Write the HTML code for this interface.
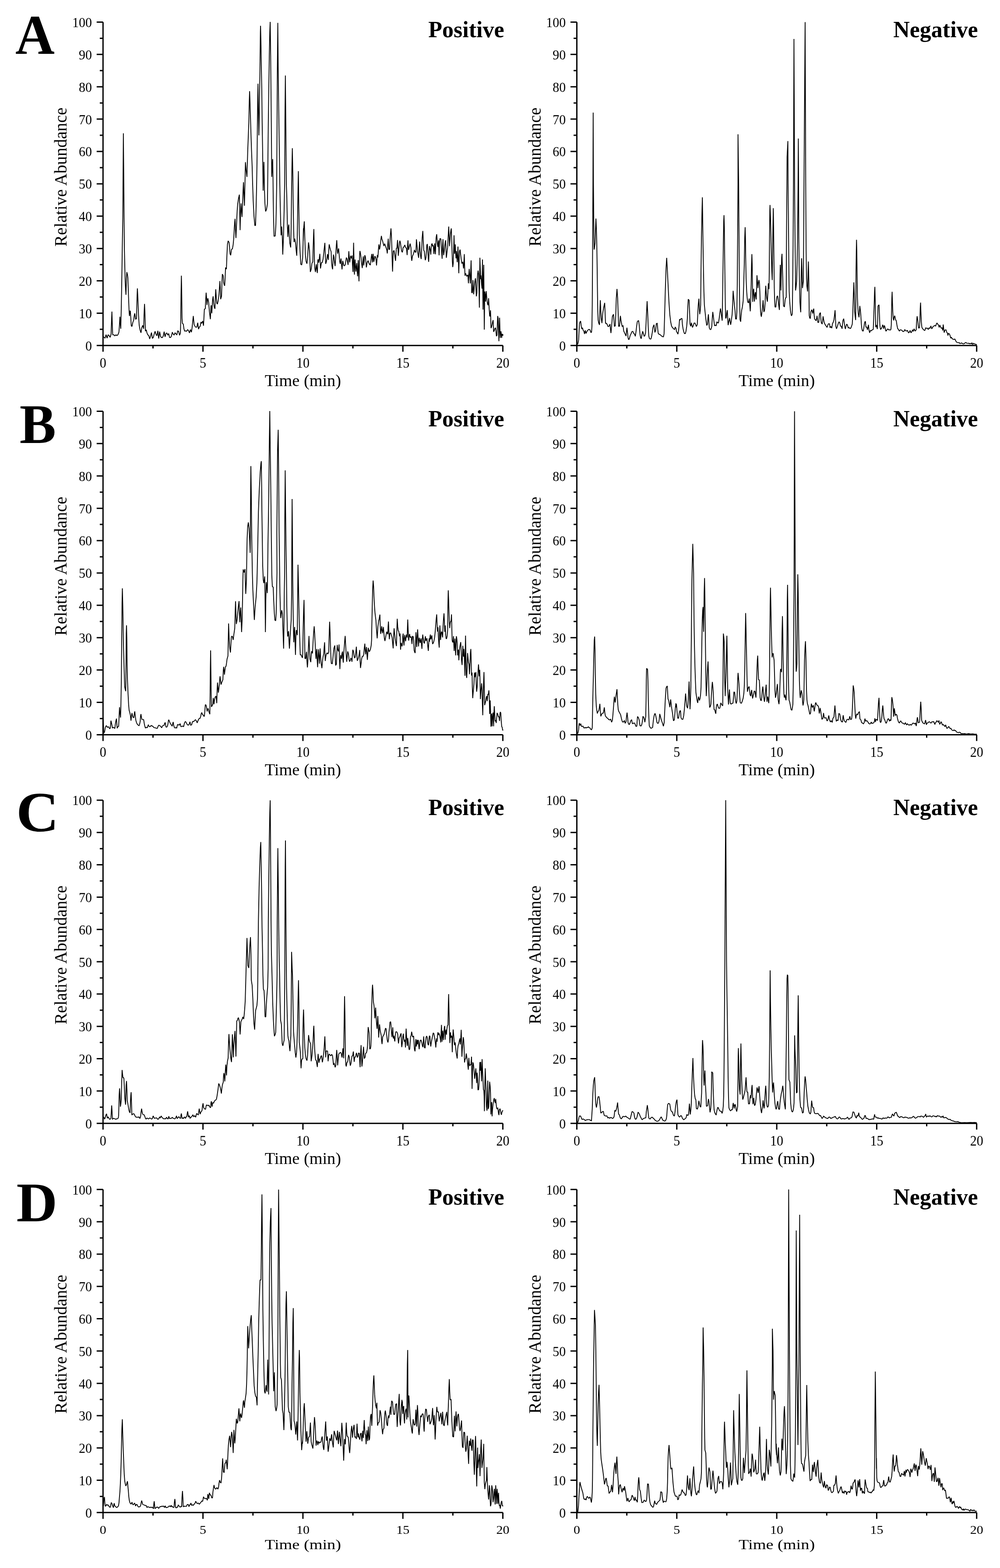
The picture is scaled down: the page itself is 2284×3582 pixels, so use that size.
<!DOCTYPE html>
<html lang="en">
<head>
<meta charset="utf-8">
<title>Chromatograms</title>
<style>
html,body{margin:0;padding:0;background:#fff;}
body{width:2284px;height:3582px;overflow:hidden;}
main,figure{display:block;margin:0;padding:0;}
svg{display:block;}
text{font-family:"Liberation Serif","Noto Serif CJK SC",serif;fill:#000;}
.ax{fill:none;stroke:#000;stroke-width:3.0;stroke-linecap:butt;}
.tr{fill:none;stroke:#000;stroke-width:1.9;stroke-linejoin:bevel;stroke-linecap:butt;}
.tk{font-size:30px;}
.xl{font-size:38.3px;}
.yl{font-size:39.3px;}
.md{font-size:52px;font-weight:bold;}
.lt{font-size:126px;font-weight:bold;}
</style>
</head>
<body>
<main>
<figure>
<svg width="2284" height="3582" viewBox="0 0 2284 3582" role="img" aria-label="Total ion chromatograms of samples A to D in positive and negative ion modes">
<rect width="2284" height="3582" fill="#fff"/>
<text class="lt" transform="translate(34.9 123.0) scale(0.988 1.028)">A</text>
<g>
<path class="ax" d="M235.30 50.45V803.60M220.80 789.30H1148.50M227.90 752.36H235.30M220.80 715.42H235.30M227.90 678.47H235.30M220.80 641.53H235.30M227.90 604.59H235.30M220.80 567.65H235.30M227.90 530.70H235.30M220.80 493.76H235.30M227.90 456.82H235.30M220.80 419.88H235.30M227.90 382.93H235.30M220.80 345.99H235.30M227.90 309.05H235.30M220.80 272.11H235.30M227.90 235.16H235.30M220.80 198.22H235.30M227.90 161.28H235.30M220.80 124.34H235.30M227.90 87.39H235.30M220.80 50.45H235.30M349.45 789.30V796.10M463.60 789.30V803.60M577.75 789.30V796.10M691.90 789.30V803.60M806.05 789.30V796.10M920.20 789.30V803.60M1034.35 789.30V796.10M1148.50 789.30V803.60"/>
<text class="tk" text-anchor="end" transform="translate(210.0 800.7) scale(1 1.05)">0</text>
<text class="tk" text-anchor="end" transform="translate(210.0 726.8) scale(1 1.05)">10</text>
<text class="tk" text-anchor="end" transform="translate(210.0 652.9) scale(1 1.05)">20</text>
<text class="tk" text-anchor="end" transform="translate(210.0 579.0) scale(1 1.05)">30</text>
<text class="tk" text-anchor="end" transform="translate(210.0 505.2) scale(1 1.05)">40</text>
<text class="tk" text-anchor="end" transform="translate(210.0 431.3) scale(1 1.05)">50</text>
<text class="tk" text-anchor="end" transform="translate(210.0 357.4) scale(1 1.05)">60</text>
<text class="tk" text-anchor="end" transform="translate(210.0 283.5) scale(1 1.05)">70</text>
<text class="tk" text-anchor="end" transform="translate(210.0 209.6) scale(1 1.05)">80</text>
<text class="tk" text-anchor="end" transform="translate(210.0 135.7) scale(1 1.05)">90</text>
<text class="tk" text-anchor="end" transform="translate(210.0 61.9) scale(1 1.05)">100</text>
<text class="tk" text-anchor="middle" transform="translate(235.3 839.9) scale(1 1.1)">0</text>
<text class="tk" text-anchor="middle" transform="translate(463.6 839.9) scale(1 1.1)">5</text>
<text class="tk" text-anchor="middle" transform="translate(691.9 839.9) scale(1 1.1)">10</text>
<text class="tk" text-anchor="middle" transform="translate(920.2 839.9) scale(1 1.1)">15</text>
<text class="tk" text-anchor="middle" transform="translate(1148.5 839.9) scale(1 1.1)">20</text>
<text class="xl" text-anchor="middle" x="691.9" y="881.6">Time (min)</text>
<text class="yl" text-anchor="middle" transform="translate(152.4 404.4) rotate(-90)">Relative Abundance</text>
<text class="md" text-anchor="end" x="1151.5" y="84.8">Positive</text>
<polyline class="tr" points="235.5,768.8 237.8,770.7 240.0,772.6 242.3,764.5 244.6,772.4 246.9,764.8 249.2,766.7 251.5,770.6 253.7,763.4 254.7,735.0 255.6,711.9 256.5,741.1 257.4,764.9 259.9,764.7 262.3,767.4 264.7,764.8 267.1,766.8 269.6,764.2 271.6,758.8 272.6,745.7 273.9,723.5 274.9,739.6 275.8,751.1 276.8,711.9 278.0,650.5 279.3,565.9 280.5,496.8 281.8,304.6 283.4,496.8 284.2,573.6 285.7,635.1 286.8,659.7 287.7,673.5 288.8,635.1 289.7,621.6 291.1,627.4 292.1,635.1 293.4,673.5 294.9,711.9 295.7,721.9 296.6,710.4 297.7,710.4 298.8,727.3 299.8,744.2 301.4,745.7 303.4,736.5 305.4,731.2 306.6,721.1 307.8,715.8 308.8,722.7 309.8,729.6 311.8,727.3 312.7,688.9 313.8,658.9 314.9,681.2 316.4,719.6 317.9,742.7 319.8,753.4 322.0,760.3 323.8,748.8 325.9,743.4 327.2,747.3 328.1,751.1 329.0,719.6 330.1,694.3 331.2,719.6 332.1,756.5 334.1,753.4 335.6,760.3 337.6,764.9 339.8,766.5 341.9,774.2 343.9,767.6 346.0,759.7 348.0,773.0 350.1,771.0 352.2,763.1 354.2,756.7 356.3,763.7 358.4,767.0 360.5,755.7 362.5,773.4 364.6,757.6 366.7,768.4 368.7,771.1 370.8,771.3 372.9,767.5 374.9,757.6 377.0,769.6 379.1,761.8 381.1,760.6 383.2,765.5 385.2,762.0 387.3,771.1 389.4,771.1 391.5,768.0 393.6,758.8 395.6,763.4 397.7,765.5 399.7,760.1 401.8,762.5 403.9,765.3 405.9,755.6 408.0,757.3 410.1,765.9 412.1,760.8 412.9,727.3 413.5,673.5 414.3,629.7 415.1,673.5 415.8,727.3 416.6,738.8 418.6,740.3 420.1,751.1 421.8,756.5 424.0,755.9 426.2,756.9 428.4,753.0 430.6,755.1 432.8,760.6 435.0,752.8 437.2,758.8 438.7,748.8 440.3,733.4 441.5,721.9 442.4,731.9 443.5,741.9 446.6,747.4 449.6,747.3 451.6,737.3 453.5,751.8 455.6,746.5 457.2,745.7 459.0,735.7 460.5,738.8 462.4,735.0 463.0,733.4 464.8,744.2 466.8,706.5 468.9,705.0 469.9,684.2 470.8,668.6 471.9,681.2 472.8,696.6 473.7,685.8 474.8,681.5 476.5,690.4 478.3,711.9 480.5,729.2 481.9,698.1 482.7,698.1 483.7,715.8 485.7,684.2 486.8,676.9 487.9,691.9 489.4,701.9 491.0,705.4 491.9,678.1 492.8,660.9 494.1,681.2 495.2,692.7 496.5,694.7 498.3,687.3 500.2,672.0 501.4,655.1 502.3,642.0 503.2,659.7 504.0,683.5 506.0,676.6 506.9,647.4 507.8,626.2 509.7,629.7 510.9,645.8 512.2,651.2 513.2,652.8 514.3,632.0 515.2,611.3 517.1,614.8 518.3,582.9 519.5,558.3 521.1,550.3 523.2,553.7 524.5,567.5 525.5,579.8 526.9,583.2 528.8,569.8 530.9,568.2 532.5,559.1 534.0,542.9 535.2,519.8 536.2,506.0 536.9,499.9 537.8,524.5 538.9,543.7 540.3,512.2 541.7,481.4 542.9,466.1 544.7,453.8 546.7,444.6 547.5,481.4 548.4,525.7 549.3,489.1 550.6,464.6 551.6,481.4 552.7,495.6 554.0,466.1 555.2,435.4 556.1,416.4 558.3,470.0 559.5,420.0 560.6,370.4 562.1,388.0 564.0,404.1 565.9,341.9 568.3,280.5 569.3,234.3 570.1,208.3 571.3,242.0 572.9,295.8 574.4,341.9 575.9,380.3 577.0,420.0 578.3,458.4 580.1,493.8 582.1,515.3 583.6,515.0 584.7,481.4 585.9,435.4 587.2,357.3 587.9,280.5 588.7,219.0 589.3,191.3 590.2,249.7 591.3,309.3 592.4,249.7 593.3,188.2 594.1,126.8 594.7,73.1 595.1,58.9 596.1,103.8 597.0,157.6 597.9,203.6 598.8,280.5 599.8,341.9 601.0,435.4 602.8,369.9 604.1,435.4 605.1,464.6 606.7,483.0 608.7,478.4 610.8,466.1 611.4,420.0 612.0,357.3 612.8,280.5 613.9,203.6 615.1,126.8 616.2,73.1 617.1,50.0 618.2,126.8 618.9,203.6 619.7,280.5 620.2,341.9 620.6,404.1 622.8,363.4 623.5,403.4 624.0,450.8 624.8,496.8 625.9,539.9 628.6,539.1 630.2,512.2 631.2,466.1 632.0,420.0 632.8,280.5 633.5,157.6 634.5,52.3 635.4,157.6 636.6,249.7 638.2,357.3 639.1,420.0 640.0,466.1 641.2,512.2 642.0,537.5 643.5,517.6 644.8,542.9 645.8,581.6 647.4,542.9 648.9,481.4 650.1,420.0 650.8,280.5 651.8,172.4 652.9,295.8 654.0,420.0 655.1,450.8 656.3,512.2 657.5,541.3 658.6,519.8 659.7,513.0 660.6,535.2 661.9,555.2 664.0,565.2 665.1,512.2 666.1,420.0 666.7,388.0 667.7,338.5 668.9,403.4 669.7,466.1 670.7,527.5 671.6,552.9 673.2,545.2 675.0,555.2 676.6,573.6 677.8,584.1 678.9,542.9 679.9,481.4 680.9,420.0 681.5,391.1 682.4,466.1 683.6,535.2 685.3,573.6 687.0,603.6 689.2,605.1 691.2,589.0 692.2,558.3 693.0,521.4 692.5,550.6 693.8,519.8 695.0,505.7 696.2,542.9 697.5,581.3 699.0,596.7 701.0,602.5 702.5,589.0 703.6,570.6 704.7,553.7 705.7,561.4 707.0,573.6 707.9,596.7 708.8,621.3 710.7,615.2 712.5,601.3 714.4,598.2 715.3,565.9 716.1,539.9 716.8,523.2 717.6,558.3 718.3,604.4 719.4,615.2 720.5,621.3 721.4,613.6 722.5,603.6 723.6,615.2 724.8,623.6 726.0,593.6 727.0,592.8 727.9,599.8 729.1,592.1 730.5,579.8 731.3,596.7 732.0,613.3 733.4,604.4 734.5,599.4 736.0,599.8 737.9,592.1 739.8,575.2 741.1,562.9 742.0,554.9 742.9,581.3 743.9,602.8 745.7,596.7 746.9,589.0 748.0,580.6 749.1,587.4 750.0,593.6 750.9,570.6 751.9,558.3 753.2,564.4 754.8,570.6 756.3,575.2 757.4,601.3 758.6,610.5 759.7,615.2 760.6,596.7 761.7,581.6 762.9,587.4 764.1,599.8 765.4,607.8 766.6,589.0 767.8,565.9 769.2,548.7 770.1,565.9 771.0,579.5 772.1,573.6 773.4,567.5 774.6,581.3 775.8,596.7 777.1,602.8 778.0,596.7 778.9,590.5 780.1,604.4 781.2,615.4 782.1,604.4 782.9,595.9 784.1,601.3 785.3,606.7 787.0,607.1 788.6,604.4 789.8,596.7 791.0,588.7 792.4,590.5 793.6,596.7 795.0,605.1 796.0,589.0 796.7,573.9 797.8,589.0 798.8,599.4 799.8,592.1 800.8,584.4 801.9,587.4 803.2,590.5 804.2,583.6 805.1,604.4 806.2,621.3 807.0,589.0 807.6,554.4 808.4,589.0 809.0,618.2 809.6,627.4 810.2,604.4 811.0,592.8 811.9,608.9 812.9,620.5 813.9,608.9 814.8,601.0 815.8,619.7 816.7,631.3 817.5,612.0 818.2,594.4 819.0,619.7 819.9,642.8 820.8,604.4 821.4,581.3 822.1,573.3 823.4,579.8 824.7,589.0 825.9,601.3 827.4,612.3 828.7,596.7 829.7,585.6 830.8,606.4 831.9,596.7 833.3,582.9 834.6,587.4 835.7,598.2 836.8,610.8 838.0,602.8 839.2,598.2 840.7,595.4 842.3,600.5 843.9,603.6 845.7,605.5 847.0,596.7 848.0,587.4 849.2,580.1 850.8,599.4 852.3,579.8 853.9,598.2 856.2,585.2 857.7,587.4 858.9,593.6 860.0,606.4 861.1,592.1 861.8,582.6 863.1,588.3 864.3,570.6 865.4,558.3 866.9,569.8 868.5,561.4 869.7,549.0 871.1,538.8 872.3,546.0 873.9,550.6 875.4,556.7 876.9,562.1 878.4,556.7 880.3,561.4 882.3,567.5 883.4,570.6 884.6,579.0 885.7,558.3 886.7,545.2 888.0,569.8 890.0,569.8 890.7,550.6 891.8,535.2 893.0,521.7 894.1,539.9 895.0,565.9 895.8,596.7 896.6,620.5 897.6,589.0 898.4,573.6 900.0,572.1 901.5,581.3 903.4,595.9 904.5,578.3 905.3,566.8 906.5,567.5 908.0,548.3 908.9,565.9 909.7,584.4 911.0,570.6 912.3,555.2 913.3,549.8 914.7,555.2 915.9,564.4 917.1,572.9 918.8,576.4 919.9,572.1 920.5,565.9 922.4,564.4 924.5,559.5 926.4,565.2 928.5,567.5 929.9,582.6 930.8,564.4 931.8,549.0 932.5,564.4 933.4,570.9 935.0,562.9 936.7,556.4 938.6,565.9 939.7,589.0 940.5,595.9 942.0,585.2 943.9,581.3 945.4,575.9 946.6,570.9 948.2,575.9 950.0,576.4 951.1,546.7 952.2,558.3 953.6,573.6 954.9,581.3 956.2,589.0 957.4,565.9 958.5,551.8 959.6,573.6 960.8,586.0 962.0,591.8 963.3,565.9 964.3,542.9 965.7,527.5 966.8,550.6 967.9,572.1 969.1,573.6 970.3,586.0 971.4,594.4 972.8,589.0 974.0,573.6 974.9,559.8 976.0,557.5 977.1,573.6 978.1,589.0 979.1,598.2 980.0,576.7 980.9,562.1 982.0,567.5 983.1,573.6 983.9,581.6 984.8,565.9 985.7,558.3 987.0,556.4 988.1,562.9 989.2,559.8 990.0,565.2 990.9,580.1 992.0,565.9 992.9,556.0 993.7,573.6 994.4,581.0 995.4,558.3 996.1,542.9 997.4,535.2 998.3,546.0 999.2,558.3 1000.1,564.1 1001.1,555.2 1001.8,549.0 1002.8,583.2 1003.8,553.7 1004.6,546.0 1005.8,544.7 1007.0,546.3 1008.1,565.9 1009.1,581.3 1009.8,591.3 1010.7,565.9 1011.7,546.3 1012.4,565.9 1013.3,582.9 1014.6,573.6 1015.8,561.4 1017.0,552.1 1018.0,549.0 1018.7,573.6 1019.5,589.0 1020.7,578.3 1022.3,565.9 1023.5,542.9 1024.9,517.6 1025.8,539.9 1026.7,562.5 1027.6,550.6 1028.7,535.2 1029.6,527.5 1030.7,521.7 1031.5,542.9 1032.2,565.9 1033.2,596.7 1034.1,610.2 1035.2,601.3 1036.1,573.6 1037.0,537.5 1037.6,558.3 1038.2,579.8 1038.8,565.9 1039.8,558.3 1040.5,573.6 1041.5,590.3 1042.4,573.6 1043.2,582.9 1044.3,599.0 1045.3,581.3 1046.0,563.2 1046.8,589.0 1047.9,624.3 1048.8,589.0 1049.7,573.6 1050.8,570.2 1052.1,581.3 1053.4,592.1 1055.0,602.1 1057.0,598.2 1058.8,613.3 1059.7,596.7 1060.5,580.6 1061.1,604.4 1062.0,629.7 1063.4,624.3 1064.9,628.7 1066.2,631.3 1068.0,628.2 1068.8,629.0 1069.9,647.1 1070.8,627.4 1071.7,614.3 1072.7,627.4 1073.4,635.1 1074.2,647.4 1075.1,619.7 1076.0,594.8 1076.8,635.1 1077.4,668.6 1078.8,668.9 1079.6,653.5 1080.3,639.7 1081.1,658.2 1081.8,672.3 1083.1,658.2 1084.6,642.8 1086.0,635.8 1087.0,658.2 1088.0,676.9 1089.2,668.9 1089.8,642.8 1090.8,627.4 1092.0,618.2 1093.1,625.9 1094.2,665.8 1094.9,702.7 1095.5,635.1 1096.1,588.7 1096.9,612.0 1097.7,637.8 1098.5,629.0 1099.2,637.8 1100.0,650.5 1100.9,659.3 1101.5,619.7 1102.0,592.8 1102.6,650.5 1103.2,707.3 1104.0,650.5 1104.9,605.1 1105.5,681.2 1106.1,753.1 1106.8,696.6 1107.2,665.8 1108.0,673.5 1109.0,688.9 1109.8,673.5 1110.6,665.0 1111.5,678.1 1112.6,688.9 1113.7,695.0 1114.9,697.3 1116.0,681.2 1117.2,704.3 1118.3,721.1 1119.2,723.0 1120.3,708.8 1121.5,749.5 1122.6,747.3 1124.1,741.1 1125.2,735.0 1126.3,731.2 1127.4,758.0 1128.7,755.7 1130.2,750.4 1131.8,748.8 1132.9,758.0 1133.8,768.0 1135.2,765.7 1135.9,742.7 1136.7,721.9 1137.8,727.3 1138.7,758.0 1139.5,779.5 1140.2,750.4 1141.1,725.8 1141.8,750.4 1142.7,771.9 1143.3,758.0 1144.3,757.2 1145.0,765.7 1145.8,771.9 1146.7,762.6 1147.4,767.2 1148.2,763.4 1149.0,766.5"/>
</g>
<g>
<path class="ax" d="M1317.50 50.45V803.60M1303.00 789.30H2230.70M1310.10 752.36H1317.50M1303.00 715.42H1317.50M1310.10 678.47H1317.50M1303.00 641.53H1317.50M1310.10 604.59H1317.50M1303.00 567.65H1317.50M1310.10 530.70H1317.50M1303.00 493.76H1317.50M1310.10 456.82H1317.50M1303.00 419.88H1317.50M1310.10 382.93H1317.50M1303.00 345.99H1317.50M1310.10 309.05H1317.50M1303.00 272.11H1317.50M1310.10 235.16H1317.50M1303.00 198.22H1317.50M1310.10 161.28H1317.50M1303.00 124.34H1317.50M1310.10 87.39H1317.50M1303.00 50.45H1317.50M1431.65 789.30V796.10M1545.80 789.30V803.60M1659.95 789.30V796.10M1774.10 789.30V803.60M1888.25 789.30V796.10M2002.40 789.30V803.60M2116.55 789.30V796.10M2230.70 789.30V803.60"/>
<text class="tk" text-anchor="end" transform="translate(1292.2 800.7) scale(1 1.05)">0</text>
<text class="tk" text-anchor="end" transform="translate(1292.2 726.8) scale(1 1.05)">10</text>
<text class="tk" text-anchor="end" transform="translate(1292.2 652.9) scale(1 1.05)">20</text>
<text class="tk" text-anchor="end" transform="translate(1292.2 579.0) scale(1 1.05)">30</text>
<text class="tk" text-anchor="end" transform="translate(1292.2 505.2) scale(1 1.05)">40</text>
<text class="tk" text-anchor="end" transform="translate(1292.2 431.3) scale(1 1.05)">50</text>
<text class="tk" text-anchor="end" transform="translate(1292.2 357.4) scale(1 1.05)">60</text>
<text class="tk" text-anchor="end" transform="translate(1292.2 283.5) scale(1 1.05)">70</text>
<text class="tk" text-anchor="end" transform="translate(1292.2 209.6) scale(1 1.05)">80</text>
<text class="tk" text-anchor="end" transform="translate(1292.2 135.7) scale(1 1.05)">90</text>
<text class="tk" text-anchor="end" transform="translate(1292.2 61.9) scale(1 1.05)">100</text>
<text class="tk" text-anchor="middle" transform="translate(1317.5 839.9) scale(1 1.1)">0</text>
<text class="tk" text-anchor="middle" transform="translate(1545.8 839.9) scale(1 1.1)">5</text>
<text class="tk" text-anchor="middle" transform="translate(1774.1 839.9) scale(1 1.1)">10</text>
<text class="tk" text-anchor="middle" transform="translate(2002.4 839.9) scale(1 1.1)">15</text>
<text class="tk" text-anchor="middle" transform="translate(2230.7 839.9) scale(1 1.1)">20</text>
<text class="xl" text-anchor="middle" x="1774.1" y="881.6">Time (min)</text>
<text class="yl" text-anchor="middle" transform="translate(1234.6 404.4) rotate(-90)">Relative Abundance</text>
<text class="md" text-anchor="end" x="2233.7" y="84.8">Negative</text>
<polyline class="tr" points="1318.2,786.4 1320.1,784.9 1321.6,776.4 1322.5,758.0 1323.4,739.6 1325.0,735.0 1326.2,733.7 1327.5,745.0 1328.7,751.2 1330.5,748.8 1331.7,754.0 1333.6,756.8 1335.1,762.9 1336.7,754.6 1338.5,761.8 1340.1,758.0 1342.3,754.6 1344.7,752.5 1347.4,753.2 1349.6,759.8 1351.1,758.8 1352.0,745.0 1352.7,696.6 1353.3,604.4 1353.9,496.8 1354.3,420.0 1354.8,257.3 1355.4,420.0 1355.9,481.4 1356.5,542.9 1357.0,570.2 1358.0,564.4 1359.2,555.2 1360.0,527.5 1361.1,499.2 1362.0,519.8 1363.1,558.3 1363.8,604.4 1364.6,665.8 1365.3,711.9 1366.2,731.2 1367.4,737.6 1369.2,742.2 1370.1,711.9 1371.1,685.8 1372.3,711.9 1373.5,728.5 1374.8,738.2 1376.6,715.8 1378.5,704.3 1381.1,691.9 1382.2,718.4 1383.1,738.8 1385.4,738.8 1387.4,742.7 1388.9,746.3 1391.1,745.0 1393.3,740.3 1394.3,751.8 1395.4,760.8 1396.9,745.0 1398.7,722.8 1401.1,717.8 1402.3,731.2 1403.3,745.7 1405.3,744.2 1406.4,718.4 1407.6,681.2 1409.2,660.0 1410.7,681.2 1412.0,718.4 1413.0,745.7 1415.0,745.0 1416.1,731.2 1417.0,721.5 1418.4,732.3 1419.6,738.8 1421.1,746.3 1423.0,743.4 1424.5,756.0 1426.4,760.2 1428.4,764.3 1429.9,767.7 1431.0,756.0 1431.9,748.5 1433.2,758.8 1434.4,770.9 1435.6,775.7 1437.1,775.0 1439.1,766.9 1441.1,762.9 1443.3,757.7 1445.4,756.8 1447.3,761.5 1449.5,763.5 1451.0,768.3 1452.5,758.8 1454.1,745.0 1455.6,735.0 1457.1,733.1 1458.6,732.3 1460.2,745.0 1461.7,762.9 1463.0,770.9 1464.5,773.7 1466.0,765.5 1467.9,756.8 1469.4,761.5 1471.1,768.3 1472.9,766.9 1474.5,760.2 1475.6,737.6 1476.8,711.9 1478.0,688.1 1479.2,711.9 1480.5,745.0 1481.7,766.9 1483.2,773.0 1485.3,774.7 1486.8,774.3 1488.3,768.3 1489.9,758.8 1491.4,747.7 1493.7,741.9 1494.9,751.8 1495.8,759.5 1497.5,754.6 1499.0,739.6 1501.1,738.2 1502.3,751.8 1503.4,761.5 1505.2,763.5 1507.5,764.3 1510.3,766.9 1512.9,768.9 1515.2,769.7 1516.7,762.9 1517.9,724.7 1519.5,665.8 1521.3,612.0 1522.7,589.0 1524.4,619.7 1525.9,650.5 1527.8,688.9 1529.8,718.4 1531.8,735.0 1533.7,744.2 1535.9,748.5 1538.2,750.5 1540.5,753.2 1542.2,747.0 1544.1,750.5 1545.0,757.2 1546.5,759.5 1548.4,763.4 1549.9,754.9 1551.1,742.7 1552.1,729.2 1553.6,731.2 1555.4,728.0 1557.6,727.3 1558.8,742.7 1560.0,750.4 1561.6,757.5 1563.2,762.0 1565.3,762.0 1566.8,756.6 1568.4,745.7 1569.9,727.3 1570.8,704.3 1571.9,683.5 1573.9,685.8 1575.0,711.9 1576.0,739.9 1577.6,745.4 1579.1,737.3 1580.3,742.7 1581.6,748.0 1583.4,744.0 1585.3,737.9 1587.3,737.9 1588.8,741.3 1590.6,746.0 1592.6,741.3 1593.6,719.6 1594.8,696.6 1596.3,682.4 1597.3,704.3 1598.2,717.8 1599.4,708.8 1600.3,696.6 1601.1,619.7 1602.1,542.9 1603.4,481.4 1604.2,450.8 1604.9,496.8 1605.7,558.3 1606.8,619.7 1607.7,665.8 1608.8,696.6 1610.3,711.9 1612.3,730.3 1614.2,743.4 1615.7,741.1 1616.9,727.3 1618.0,718.1 1619.0,735.0 1620.0,748.8 1621.8,752.7 1623.7,752.7 1625.7,745.7 1626.8,727.3 1628.0,712.7 1629.5,724.2 1631.0,736.5 1632.1,744.2 1633.8,742.7 1635.7,744.2 1637.5,735.0 1639.0,737.3 1641.0,737.7 1642.6,727.3 1644.1,715.0 1645.6,704.6 1647.2,715.0 1648.3,724.2 1649.5,732.6 1650.1,696.6 1651.0,635.1 1652.1,558.3 1653.0,504.5 1653.6,491.5 1654.4,519.8 1655.0,573.6 1655.6,619.7 1656.3,673.5 1656.8,704.3 1657.5,727.3 1658.7,725.8 1659.9,715.0 1661.1,708.5 1662.1,727.3 1663.0,742.7 1664.5,735.0 1666.4,726.5 1667.6,735.0 1668.9,741.9 1670.2,733.4 1672.2,718.1 1673.3,696.6 1674.5,664.3 1675.9,681.2 1677.4,696.6 1679.0,711.9 1680.2,728.8 1682.0,728.8 1683.0,711.9 1683.9,650.5 1684.5,573.6 1685.1,496.8 1685.6,420.0 1685.6,306.8 1687.1,420.0 1687.6,496.8 1688.2,573.6 1688.8,650.5 1689.4,696.6 1690.2,730.3 1691.7,735.0 1692.8,719.6 1694.0,708.8 1695.6,701.2 1697.4,687.3 1698.6,650.5 1699.9,604.4 1701.0,542.9 1701.9,519.1 1702.6,542.9 1703.2,589.0 1704.1,635.1 1705.4,665.8 1706.6,681.2 1707.8,690.1 1709.7,691.9 1711.2,681.9 1712.5,696.6 1713.6,711.1 1714.5,688.9 1715.6,650.5 1716.5,604.4 1717.3,580.6 1718.0,604.4 1718.6,650.5 1719.2,689.6 1720.1,668.9 1721.4,659.7 1722.1,673.5 1723.1,688.9 1724.1,673.5 1725.4,667.4 1726.3,678.1 1727.2,684.2 1728.0,658.2 1728.9,628.7 1730.0,642.8 1731.2,658.2 1732.1,647.4 1733.4,639.7 1734.6,647.4 1735.5,665.8 1736.3,693.5 1737.1,711.9 1738.0,719.6 1738.9,723.5 1740.1,715.0 1741.7,701.2 1742.9,685.8 1744.0,704.3 1744.7,712.7 1746.2,708.8 1747.5,693.5 1748.3,665.8 1749.0,652.8 1750.1,668.9 1751.2,681.2 1752.7,689.2 1754.0,665.8 1754.9,647.4 1755.8,655.1 1756.4,660.4 1757.0,619.7 1757.6,542.9 1758.3,481.4 1758.7,468.4 1759.8,496.8 1760.9,542.9 1762.0,589.0 1762.9,619.7 1763.8,639.7 1764.4,589.0 1765.3,527.5 1766.2,475.6 1767.0,527.5 1767.8,604.4 1768.5,658.2 1769.3,688.9 1770.2,701.5 1772.1,701.2 1773.1,688.9 1774.2,679.7 1774.6,677.4 1776.1,675.8 1777.3,684.2 1778.5,696.6 1780.1,708.1 1781.0,665.8 1781.6,627.4 1782.2,605.1 1783.0,635.1 1783.7,663.5 1784.5,619.7 1785.3,589.0 1786.1,579.8 1786.8,604.4 1787.8,635.1 1788.7,673.5 1789.6,698.9 1791.7,701.2 1793.3,684.2 1794.5,680.4 1795.7,679.7 1796.1,589.0 1796.5,519.8 1797.0,458.4 1797.3,420.0 1797.7,358.6 1799.5,322.3 1799.9,420.0 1800.7,489.1 1801.3,558.3 1801.9,627.4 1802.5,665.8 1803.7,688.9 1805.3,708.8 1806.8,718.1 1807.7,721.5 1809.6,717.3 1810.2,673.5 1810.8,619.7 1811.4,558.3 1812.0,458.4 1812.3,420.0 1813.4,88.9 1814.8,420.0 1815.4,496.8 1816.0,558.3 1816.7,612.0 1817.1,663.5 1818.3,655.1 1819.5,642.8 1820.6,604.4 1821.5,550.6 1822.2,489.1 1822.8,420.0 1823.4,316.4 1824.0,420.0 1824.5,542.9 1825.2,604.4 1826.2,658.2 1827.1,690.4 1828.0,704.3 1828.9,713.4 1829.5,673.5 1830.2,619.7 1830.9,590.1 1831.9,619.7 1832.9,658.2 1833.8,650.5 1834.8,642.8 1835.2,596.7 1835.7,512.2 1836.3,420.0 1838.9,50.5 1840.3,420.0 1840.8,512.2 1841.2,573.6 1842.1,635.1 1843.0,653.5 1844.5,665.8 1845.5,627.4 1846.4,597.4 1847.4,642.8 1847.8,681.2 1848.3,721.1 1849.3,725.8 1850.6,728.0 1852.1,711.9 1854.1,707.6 1855.3,711.9 1856.4,716.2 1857.5,708.8 1858.6,705.0 1859.5,719.6 1860.6,728.8 1862.1,730.3 1864.0,732.6 1865.2,727.3 1866.2,721.5 1867.0,728.8 1867.9,736.5 1870.1,736.5 1871.3,719.6 1872.5,715.8 1873.8,714.2 1874.7,727.3 1875.9,737.3 1877.8,740.3 1879.0,731.9 1879.9,722.7 1881.2,730.3 1882.4,736.5 1884.4,741.1 1886.7,744.5 1889.0,748.0 1890.5,743.4 1892.1,739.6 1894.7,739.6 1895.9,748.8 1897.7,745.7 1899.8,749.5 1901.3,739.6 1903.3,735.7 1904.8,730.3 1906.1,719.6 1907.3,708.5 1908.2,727.3 1909.1,745.7 1910.5,751.1 1912.0,747.3 1914.4,739.6 1916.3,735.0 1918.2,738.0 1919.7,745.0 1921.7,745.7 1923.3,751.1 1924.3,739.6 1925.4,731.9 1927.0,728.0 1928.2,736.5 1929.7,747.3 1930.9,751.5 1932.5,744.2 1934.0,740.3 1935.6,742.7 1937.4,749.5 1938.9,748.0 1940.8,750.0 1942.8,750.4 1944.8,745.7 1946.6,740.3 1947.7,719.6 1948.6,688.9 1949.4,665.8 1950.2,645.1 1951.2,673.5 1952.1,711.9 1953.1,721.1 1954.3,731.2 1954.8,681.2 1955.2,619.7 1955.8,573.6 1956.3,547.8 1956.9,573.6 1957.7,635.1 1958.4,681.2 1959.4,704.3 1960.4,716.5 1962.0,724.9 1962.9,711.9 1963.8,698.9 1965.1,708.8 1966.1,719.6 1967.3,739.6 1968.4,750.4 1969.7,755.7 1971.5,756.5 1972.7,750.4 1974.3,739.6 1975.5,735.0 1976.6,734.2 1977.8,747.3 1979.7,747.3 1981.2,753.4 1982.3,748.8 1983.5,741.9 1984.7,753.4 1986.2,760.3 1988.1,754.9 1989.9,755.7 1992.4,753.4 1994.5,752.7 1995.5,727.3 1996.6,696.6 1997.5,665.8 1998.2,655.3 1999.2,696.6 2000.1,747.3 2001.9,742.7 2002.2,744.2 2003.8,751.8 2004.7,727.3 2005.3,699.6 2006.5,697.3 2007.7,696.6 2008.7,719.6 2009.6,742.7 2011.1,752.7 2013.3,750.4 2014.8,746.5 2016.1,741.9 2017.3,745.7 2018.2,751.1 2019.8,743.4 2021.3,747.3 2022.5,753.4 2023.6,756.8 2025.6,753.4 2027.9,751.1 2029.4,753.7 2031.4,753.1 2033.3,754.2 2034.8,752.7 2035.7,742.7 2036.3,711.9 2037.0,681.2 2037.6,666.6 2038.3,688.9 2039.1,711.9 2040.0,727.3 2041.3,731.9 2042.5,723.5 2043.5,721.1 2044.8,727.3 2045.9,731.6 2047.1,732.6 2048.6,742.7 2050.2,750.4 2052.0,752.7 2054.2,756.5 2056.0,753.4 2058.2,753.7 2060.2,754.9 2062.4,757.7 2064.8,756.8 2066.6,752.7 2068.6,755.7 2070.4,756.2 2072.9,754.9 2074.7,760.3 2076.6,759.5 2078.7,754.9 2080.6,760.3 2082.4,758.0 2084.3,753.4 2085.8,757.2 2087.8,751.1 2090.1,756.5 2092.6,753.4 2093.5,735.0 2094.7,722.4 2096.0,730.3 2097.2,742.7 2098.1,749.5 2100.1,748.8 2101.2,727.3 2101.8,704.3 2102.6,691.2 2103.3,711.9 2104.3,735.0 2105.5,747.3 2107.3,751.1 2109.3,752.7 2111.3,755.2 2112.9,754.2 2113.9,748.8 2115.9,750.0 2118.1,749.5 2120.1,752.7 2122.1,748.8 2123.9,750.4 2126.2,744.5 2127.9,751.1 2129.7,748.8 2131.3,745.7 2133.4,744.5 2135.1,743.4 2137.1,745.0 2138.6,740.3 2140.1,737.7 2141.6,740.3 2143.6,742.7 2145.1,748.0 2146.6,742.7 2148.2,746.5 2150.0,750.0 2151.9,748.8 2153.1,754.9 2154.3,741.4 2155.3,750.4 2156.5,759.8 2158.5,753.7 2160.8,753.4 2162.6,759.5 2163.9,760.8 2165.1,766.5 2166.2,761.4 2168.1,762.6 2169.7,765.7 2171.5,772.6 2173.1,770.3 2174.6,773.3 2176.5,774.9 2178.5,775.7 2180.7,774.2 2182.3,777.2 2183.9,780.7 2186.1,782.3 2188.4,782.9 2190.9,782.6 2192.3,784.9 2194.3,784.4 2196.1,783.4 2198.4,784.9 2200.7,785.7 2202.6,784.9 2204.6,782.9 2206.1,782.3 2208.1,784.1 2210.2,784.4 2212.7,784.1 2214.6,785.4 2216.9,784.4 2218.4,785.7 2219.9,782.9 2221.5,786.9 2223.8,784.1 2225.6,785.7 2228.1,786.4 2231.0,787.5"/>
</g>
<text class="lt" transform="translate(44.7 1011.9) scale(0.99 1.005)">B</text>
<g>
<path class="ax" d="M235.30 939.45V1692.70M220.80 1678.40H1148.50M227.90 1641.45H235.30M220.80 1604.51H235.30M227.90 1567.56H235.30M220.80 1530.61H235.30M227.90 1493.66H235.30M220.80 1456.72H235.30M227.90 1419.77H235.30M220.80 1382.82H235.30M227.90 1345.87H235.30M220.80 1308.93H235.30M227.90 1271.98H235.30M220.80 1235.03H235.30M227.90 1198.08H235.30M220.80 1161.14H235.30M227.90 1124.19H235.30M220.80 1087.24H235.30M227.90 1050.29H235.30M220.80 1013.35H235.30M227.90 976.40H235.30M220.80 939.45H235.30M349.45 1678.40V1685.20M463.60 1678.40V1692.70M577.75 1678.40V1685.20M691.90 1678.40V1692.70M806.05 1678.40V1685.20M920.20 1678.40V1692.70M1034.35 1678.40V1685.20M1148.50 1678.40V1692.70"/>
<text class="tk" text-anchor="end" transform="translate(210.0 1689.8) scale(1 1.05)">0</text>
<text class="tk" text-anchor="end" transform="translate(210.0 1615.9) scale(1 1.05)">10</text>
<text class="tk" text-anchor="end" transform="translate(210.0 1542.0) scale(1 1.05)">20</text>
<text class="tk" text-anchor="end" transform="translate(210.0 1468.1) scale(1 1.05)">30</text>
<text class="tk" text-anchor="end" transform="translate(210.0 1394.2) scale(1 1.05)">40</text>
<text class="tk" text-anchor="end" transform="translate(210.0 1320.3) scale(1 1.05)">50</text>
<text class="tk" text-anchor="end" transform="translate(210.0 1246.4) scale(1 1.05)">60</text>
<text class="tk" text-anchor="end" transform="translate(210.0 1172.5) scale(1 1.05)">70</text>
<text class="tk" text-anchor="end" transform="translate(210.0 1098.6) scale(1 1.05)">80</text>
<text class="tk" text-anchor="end" transform="translate(210.0 1024.7) scale(1 1.05)">90</text>
<text class="tk" text-anchor="end" transform="translate(210.0 950.9) scale(1 1.05)">100</text>
<text class="tk" text-anchor="middle" transform="translate(235.3 1729.0) scale(1 1.1)">0</text>
<text class="tk" text-anchor="middle" transform="translate(463.6 1729.0) scale(1 1.1)">5</text>
<text class="tk" text-anchor="middle" transform="translate(691.9 1729.0) scale(1 1.1)">10</text>
<text class="tk" text-anchor="middle" transform="translate(920.2 1729.0) scale(1 1.1)">15</text>
<text class="tk" text-anchor="middle" transform="translate(1148.5 1729.0) scale(1 1.1)">20</text>
<text class="xl" text-anchor="middle" x="691.9" y="1770.7">Time (min)</text>
<text class="yl" text-anchor="middle" transform="translate(152.4 1293.4) rotate(-90)">Relative Abundance</text>
<text class="md" text-anchor="end" x="1151.5" y="973.9">Positive</text>
<polyline class="tr" points="235.8,1639.3 236.9,1675.4 238.9,1671.6 240.4,1662.4 241.9,1658.5 243.4,1657.8 245.0,1661.6 246.5,1660.8 248.5,1660.5 250.0,1664.7 251.9,1663.6 252.7,1654.7 253.4,1646.3 254.7,1651.7 255.9,1657.8 256.8,1663.2 258.8,1661.6 260.4,1662.4 262.3,1664.2 263.4,1654.7 264.7,1647.0 266.0,1641.6 266.9,1654.7 267.7,1663.6 269.1,1660.1 271.0,1659.3 271.9,1639.3 273.0,1615.5 274.0,1628.6 275.3,1639.3 276.2,1608.6 277.1,1554.8 278.0,1462.6 278.8,1378.2 279.5,1344.0 280.5,1385.8 281.4,1439.6 282.3,1485.7 283.6,1531.8 284.8,1568.7 286.0,1574.8 287.2,1579.1 287.9,1508.7 288.4,1447.3 289.0,1428.6 289.7,1462.6 290.3,1516.4 291.2,1554.8 292.5,1585.6 293.7,1608.6 294.9,1622.5 296.4,1627.8 297.7,1633.2 299.2,1646.3 300.3,1636.3 301.4,1628.9 302.6,1634.7 303.8,1638.6 305.7,1639.6 306.8,1630.1 307.8,1625.2 309.0,1636.3 310.3,1645.4 311.8,1650.8 313.7,1654.7 315.7,1656.5 317.7,1658.1 319.2,1653.1 320.3,1647.0 321.0,1636.3 322.0,1631.3 322.9,1637.8 324.1,1643.6 325.9,1643.6 328.1,1644.0 329.3,1651.7 330.5,1657.8 332.1,1663.2 334.1,1661.6 335.6,1662.4 336.7,1662.1 337.9,1657.8 338.9,1655.5 340.4,1659.3 342.2,1660.1 343.8,1659.3 345.2,1657.0 347.2,1658.5 349.0,1659.0 351.0,1661.6 353.0,1662.4 354.8,1662.7 357.2,1663.6 359.1,1664.2 361.0,1659.3 362.8,1656.5 364.8,1657.8 366.8,1659.0 368.4,1661.6 369.4,1662.7 371.0,1658.5 372.5,1657.5 374.8,1657.0 376.0,1652.4 377.3,1650.4 378.2,1656.2 379.1,1660.8 381.0,1661.1 382.5,1658.5 383.7,1653.1 384.8,1645.4 385.6,1644.3 387.1,1648.5 388.6,1651.9 390.5,1655.0 392.0,1657.0 393.2,1659.0 394.5,1653.1 395.6,1649.3 396.6,1656.5 398.2,1661.6 399.7,1663.2 401.7,1662.1 403.6,1663.6 404.8,1657.8 405.8,1654.7 407.4,1655.9 409.4,1656.5 411.4,1653.1 413.2,1660.1 415.1,1659.6 417.1,1658.5 419.4,1660.1 420.9,1653.1 422.5,1649.3 423.7,1648.3 425.5,1650.8 427.3,1654.7 429.4,1656.5 431.4,1655.9 432.9,1651.7 434.0,1648.8 435.5,1657.0 437.8,1655.5 439.4,1649.3 440.6,1647.8 442.4,1648.5 444.2,1646.3 446.2,1644.0 448.3,1646.3 450.4,1651.3 452.0,1647.0 453.9,1642.7 455.0,1641.2 456.6,1641.6 458.5,1636.3 459.6,1630.1 460.9,1627.8 462.4,1632.4 463.0,1631.6 464.8,1635.5 466.8,1636.3 467.9,1623.9 468.9,1609.8 470.4,1610.4 471.9,1616.3 473.1,1625.2 474.4,1619.4 475.6,1618.6 477.1,1625.5 479.3,1631.6 479.9,1585.6 480.5,1524.1 481.1,1485.7 481.7,1539.5 482.4,1585.6 483.0,1614.8 484.5,1612.0 486.1,1608.6 487.1,1594.5 488.0,1600.9 488.8,1608.6 490.0,1597.9 491.4,1592.5 493.4,1590.2 494.3,1597.9 495.1,1606.3 495.9,1577.9 496.8,1559.4 497.7,1570.2 498.8,1582.5 499.9,1573.2 501.1,1562.5 501.9,1551.7 502.6,1544.9 503.7,1554.8 504.8,1564.0 506.3,1559.4 507.8,1555.6 509.1,1552.6 510.0,1531.8 510.9,1523.3 511.9,1531.8 512.6,1541.3 513.7,1531.8 514.8,1523.3 516.2,1522.3 517.4,1514.9 518.6,1505.6 520.6,1498.8 521.4,1462.6 522.1,1424.2 523.2,1454.9 524.5,1478.0 526.3,1490.6 527.5,1470.3 528.4,1454.9 529.7,1453.4 530.9,1454.2 532.5,1461.9 534.0,1450.4 536.2,1435.0 537.1,1401.2 538.0,1373.5 538.9,1401.2 539.8,1425.5 541.4,1416.5 542.9,1401.2 544.4,1385.8 546.0,1373.2 546.9,1401.2 547.8,1421.5 548.7,1401.2 549.8,1387.7 550.9,1416.5 551.8,1443.9 553.0,1416.5 554.0,1370.5 554.7,1324.4 555.5,1300.8 557.5,1307.7 559.5,1300.1 561.3,1356.7 562.9,1324.4 563.6,1277.0 564.4,1230.9 565.7,1203.3 567.2,1193.3 569.0,1207.8 570.5,1238.6 571.4,1262.9 572.1,1184.9 572.5,1108.0 573.0,1064.7 573.9,1123.4 574.8,1215.5 575.8,1277.0 576.4,1309.0 577.5,1347.4 579.0,1378.2 580.9,1416.2 582.8,1385.8 585.1,1362.8 586.7,1332.1 587.4,1309.0 588.7,1246.3 590.2,1169.5 592.0,1123.4 594.4,1077.3 595.9,1058.9 596.8,1053.5 597.6,1108.0 598.2,1169.5 599.1,1230.9 600.0,1292.4 601.3,1324.4 602.5,1332.1 603.6,1324.4 604.5,1316.7 605.3,1355.1 606.2,1443.9 607.1,1370.5 608.2,1329.8 609.3,1339.7 610.5,1354.8 611.3,1309.0 612.0,1246.3 613.3,1169.5 614.3,1092.6 615.1,1015.8 616.2,939.0 617.1,1015.8 618.2,1092.6 619.1,1169.5 620.0,1246.3 620.8,1313.6 622.0,1339.7 624.0,1341.3 625.1,1370.5 626.6,1401.2 627.8,1416.5 629.7,1418.1 630.8,1401.2 631.7,1355.1 632.6,1309.0 632.3,1215.5 633.2,1123.4 633.9,1031.2 635.4,981.7 636.3,1061.9 636.9,1138.7 637.5,1215.5 638.5,1292.4 639.4,1355.1 640.4,1393.5 641.2,1411.9 642.5,1401.2 643.5,1393.8 645.1,1402.7 646.1,1431.9 647.1,1462.6 647.8,1481.8 648.6,1431.9 649.3,1355.1 650.1,1309.0 650.4,1200.2 651.4,1074.5 652.3,1169.5 653.2,1246.3 654.3,1313.6 655.1,1385.8 656.3,1439.6 657.1,1454.2 658.1,1447.3 659.0,1441.9 660.0,1462.6 661.0,1481.8 662.1,1462.6 663.5,1439.6 665.1,1416.5 666.1,1355.1 666.7,1215.5 667.2,1139.9 668.0,1230.9 668.6,1324.4 669.2,1370.5 670.1,1431.9 671.0,1467.3 671.9,1447.3 673.0,1432.3 673.8,1462.6 674.9,1496.1 675.8,1454.9 676.9,1439.6 678.1,1444.2 679.0,1451.1 679.6,1385.8 680.6,1290.1 681.5,1324.4 682.7,1385.8 684.2,1447.3 685.8,1496.1 687.6,1495.7 689.2,1499.5 690.7,1502.9 691.4,1493.4 692.5,1431.9 693.5,1393.5 694.4,1370.5 695.3,1431.9 696.1,1478.0 696.5,1504.2 698.4,1504.5 699.3,1493.4 700.1,1489.1 701.0,1508.7 702.1,1524.8 703.3,1508.7 704.5,1478.0 705.7,1452.7 706.7,1478.0 707.9,1505.6 709.8,1512.6 711.0,1493.4 711.9,1487.5 713.7,1492.6 714.8,1470.3 716.2,1447.3 717.6,1430.7 718.7,1447.3 719.9,1470.3 720.9,1493.4 721.7,1505.3 722.6,1490.3 723.6,1482.6 724.5,1508.7 725.4,1524.1 726.3,1501.1 727.4,1483.4 728.5,1501.1 729.6,1516.1 730.3,1497.9 731.3,1481.4 732.2,1501.1 733.7,1516.4 735.2,1526.4 736.5,1511.8 737.7,1501.1 739.4,1493.4 740.5,1478.0 741.4,1467.3 742.2,1493.4 742.9,1510.0 744.0,1501.1 745.1,1494.9 747.1,1491.1 748.7,1494.1 750.9,1490.0 751.5,1462.6 752.2,1439.6 752.9,1420.4 754.0,1447.3 754.9,1478.0 755.8,1501.1 756.7,1515.7 758.9,1516.4 760.1,1505.6 761.3,1493.4 762.6,1481.1 764.7,1474.6 765.7,1501.1 766.6,1520.3 768.3,1517.2 769.2,1493.4 770.3,1473.4 771.2,1482.6 772.1,1485.7 773.4,1488.0 774.4,1472.2 775.4,1508.7 776.3,1528.4 777.1,1508.7 778.1,1496.5 779.0,1501.8 780.1,1504.9 781.0,1493.4 782.3,1488.4 783.2,1505.6 784.1,1513.6 785.0,1493.4 786.3,1478.0 787.5,1461.1 788.4,1452.7 789.3,1470.3 790.6,1493.4 791.9,1511.8 793.2,1497.9 794.2,1488.0 795.8,1493.4 797.0,1504.2 798.1,1511.0 799.8,1509.5 801.3,1503.3 802.9,1505.6 803.9,1511.8 805.0,1493.4 805.9,1484.4 807.3,1488.0 808.5,1496.5 809.7,1503.3 811.3,1501.1 812.7,1490.3 813.9,1477.3 814.8,1493.4 816.0,1509.5 817.7,1505.6 819.3,1499.5 820.5,1493.4 821.6,1484.9 822.4,1508.7 823.4,1526.0 824.7,1516.4 825.9,1505.6 827.4,1499.5 829.3,1499.5 830.8,1494.9 832.0,1481.1 833.3,1470.3 834.2,1485.7 835.1,1494.6 836.0,1485.7 837.0,1478.0 838.0,1493.4 839.1,1507.5 840.0,1493.4 841.1,1479.8 841.9,1484.1 843.1,1488.4 844.6,1487.2 846.2,1482.6 847.7,1475.0 848.7,1462.6 849.2,1431.9 850.2,1385.8 851.1,1347.4 852.2,1326.2 853.3,1339.7 854.2,1362.8 855.4,1385.8 856.6,1401.2 858.5,1416.5 860.0,1439.6 861.5,1458.3 863.1,1431.9 864.6,1419.6 866.1,1413.5 867.7,1404.0 868.6,1431.9 869.5,1448.1 870.8,1439.6 871.8,1430.7 872.8,1439.6 873.9,1446.5 874.8,1439.6 875.7,1432.3 876.9,1447.3 878.1,1459.6 879.2,1464.2 880.7,1456.5 882.3,1447.3 883.5,1443.0 884.6,1447.3 885.8,1448.8 886.4,1431.9 887.2,1419.9 888.1,1439.6 889.2,1460.3 890.4,1447.3 892.3,1445.4 893.8,1450.4 895.6,1456.5 896.9,1470.3 898.0,1481.1 899.0,1454.9 900.1,1435.3 901.2,1447.3 902.7,1459.6 904.3,1470.3 905.5,1476.1 906.4,1439.6 907.3,1413.5 908.4,1431.9 909.5,1440.4 911.0,1442.7 912.3,1453.4 913.8,1447.3 914.9,1484.1 916.1,1468.8 917.1,1471.9 918.4,1476.4 919.9,1462.6 919.9,1454.9 920.8,1447.3 921.8,1462.6 922.7,1474.6 923.6,1459.6 924.5,1450.4 925.5,1458.0 926.4,1464.9 927.6,1454.9 928.8,1449.5 930.1,1456.5 930.7,1431.9 931.3,1415.3 932.2,1439.6 933.4,1463.4 934.4,1454.9 935.5,1448.5 936.7,1454.9 937.7,1456.5 939.0,1454.2 940.1,1462.6 941.0,1471.1 942.0,1453.4 943.6,1454.2 944.8,1462.6 945.9,1485.7 947.1,1489.5 948.2,1491.8 949.1,1470.3 950.0,1444.2 951.0,1462.6 951.9,1478.0 952.8,1454.9 953.9,1437.7 954.8,1454.9 955.9,1476.7 956.8,1462.6 957.7,1456.8 958.6,1462.6 959.7,1468.8 960.8,1462.6 961.7,1458.3 962.6,1470.3 963.7,1482.3 964.6,1462.6 965.5,1449.5 966.6,1458.0 967.9,1467.3 969.4,1470.0 970.5,1461.1 971.6,1453.4 972.8,1464.2 974.0,1461.1 975.1,1458.0 976.1,1467.3 977.4,1479.5 978.3,1486.9 979.2,1470.3 980.2,1458.3 981.1,1465.7 982.0,1456.5 982.9,1449.5 983.9,1460.3 984.8,1458.0 986.3,1451.5 987.2,1462.6 988.1,1471.1 989.7,1468.8 991.2,1464.2 992.8,1454.9 994.3,1439.6 995.8,1419.6 997.4,1403.5 998.3,1424.2 999.1,1442.7 1000.4,1432.7 1001.3,1454.9 1002.3,1470.3 1003.2,1479.5 1003.9,1447.3 1004.7,1428.9 1005.5,1447.3 1006.3,1461.9 1007.2,1450.4 1008.1,1443.0 1009.2,1444.2 1010.0,1450.4 1010.9,1456.2 1011.9,1431.9 1013.0,1413.5 1014.1,1401.2 1015.0,1419.6 1015.8,1443.4 1016.9,1428.9 1017.8,1447.3 1018.9,1459.2 1020.1,1458.8 1021.5,1451.9 1022.4,1439.6 1023.0,1385.8 1023.8,1348.6 1024.7,1370.5 1025.6,1401.2 1026.5,1424.2 1027.2,1435.0 1028.1,1424.2 1029.3,1418.9 1030.2,1419.6 1031.2,1403.5 1031.9,1431.9 1032.7,1462.6 1033.6,1466.5 1034.7,1467.3 1035.8,1453.4 1036.5,1470.3 1037.3,1486.9 1038.2,1470.3 1039.1,1458.8 1040.1,1485.7 1040.8,1497.2 1041.6,1470.3 1042.4,1453.4 1043.4,1459.6 1044.3,1470.3 1045.3,1497.2 1046.2,1490.3 1047.0,1484.1 1048.0,1508.4 1049.3,1485.7 1050.5,1476.4 1051.4,1471.9 1052.3,1466.9 1053.3,1485.7 1054.2,1508.7 1055.4,1519.2 1056.4,1493.4 1057.1,1475.3 1057.9,1490.3 1058.6,1500.3 1059.6,1482.6 1060.3,1493.4 1061.1,1516.4 1061.9,1543.8 1062.5,1493.4 1063.3,1451.9 1064.0,1493.4 1064.9,1539.5 1066.0,1548.7 1067.0,1524.1 1067.9,1491.8 1068.8,1501.1 1069.9,1513.3 1071.1,1517.2 1072.3,1540.2 1073.4,1516.4 1074.5,1490.3 1075.4,1482.6 1076.2,1508.7 1077.0,1543.3 1078.2,1536.4 1078.8,1570.2 1079.7,1595.0 1081.1,1577.9 1082.5,1562.5 1083.7,1536.4 1084.6,1547.2 1085.7,1539.5 1087.0,1535.6 1087.7,1562.5 1088.6,1580.2 1089.8,1570.2 1091.1,1547.2 1092.0,1531.8 1092.9,1517.7 1093.8,1531.8 1094.6,1544.9 1095.7,1530.2 1096.4,1554.8 1097.2,1597.0 1098.5,1577.9 1100.0,1561.0 1101.1,1577.9 1101.8,1608.6 1102.6,1633.9 1103.7,1585.6 1104.6,1554.8 1105.4,1535.2 1106.1,1570.2 1107.0,1610.9 1108.3,1605.5 1109.5,1600.9 1110.7,1593.2 1111.8,1590.2 1112.9,1601.7 1114.1,1585.6 1115.4,1587.1 1116.6,1577.1 1117.5,1593.2 1118.4,1630.9 1119.0,1616.3 1119.6,1600.1 1120.6,1631.6 1121.3,1660.1 1122.2,1639.3 1123.0,1630.1 1123.9,1659.3 1124.9,1639.3 1126.1,1627.8 1127.4,1659.3 1128.1,1631.6 1128.9,1613.2 1130.0,1631.6 1131.0,1647.8 1132.2,1645.4 1133.3,1651.7 1134.4,1639.3 1135.3,1628.6 1136.9,1631.6 1138.4,1637.8 1139.6,1637.0 1140.9,1647.0 1141.8,1631.6 1142.7,1626.3 1143.8,1628.6 1144.8,1647.0 1145.9,1659.3 1147.2,1662.4 1148.2,1668.5 1149.0,1666.9"/>
</g>
<g>
<path class="ax" d="M1317.50 939.45V1692.70M1303.00 1678.40H2230.70M1310.10 1641.45H1317.50M1303.00 1604.51H1317.50M1310.10 1567.56H1317.50M1303.00 1530.61H1317.50M1310.10 1493.66H1317.50M1303.00 1456.72H1317.50M1310.10 1419.77H1317.50M1303.00 1382.82H1317.50M1310.10 1345.87H1317.50M1303.00 1308.93H1317.50M1310.10 1271.98H1317.50M1303.00 1235.03H1317.50M1310.10 1198.08H1317.50M1303.00 1161.14H1317.50M1310.10 1124.19H1317.50M1303.00 1087.24H1317.50M1310.10 1050.29H1317.50M1303.00 1013.35H1317.50M1310.10 976.40H1317.50M1303.00 939.45H1317.50M1431.65 1678.40V1685.20M1545.80 1678.40V1692.70M1659.95 1678.40V1685.20M1774.10 1678.40V1692.70M1888.25 1678.40V1685.20M2002.40 1678.40V1692.70M2116.55 1678.40V1685.20M2230.70 1678.40V1692.70"/>
<text class="tk" text-anchor="end" transform="translate(1292.2 1689.8) scale(1 1.05)">0</text>
<text class="tk" text-anchor="end" transform="translate(1292.2 1615.9) scale(1 1.05)">10</text>
<text class="tk" text-anchor="end" transform="translate(1292.2 1542.0) scale(1 1.05)">20</text>
<text class="tk" text-anchor="end" transform="translate(1292.2 1468.1) scale(1 1.05)">30</text>
<text class="tk" text-anchor="end" transform="translate(1292.2 1394.2) scale(1 1.05)">40</text>
<text class="tk" text-anchor="end" transform="translate(1292.2 1320.3) scale(1 1.05)">50</text>
<text class="tk" text-anchor="end" transform="translate(1292.2 1246.4) scale(1 1.05)">60</text>
<text class="tk" text-anchor="end" transform="translate(1292.2 1172.5) scale(1 1.05)">70</text>
<text class="tk" text-anchor="end" transform="translate(1292.2 1098.6) scale(1 1.05)">80</text>
<text class="tk" text-anchor="end" transform="translate(1292.2 1024.7) scale(1 1.05)">90</text>
<text class="tk" text-anchor="end" transform="translate(1292.2 950.9) scale(1 1.05)">100</text>
<text class="tk" text-anchor="middle" transform="translate(1317.5 1729.0) scale(1 1.1)">0</text>
<text class="tk" text-anchor="middle" transform="translate(1545.8 1729.0) scale(1 1.1)">5</text>
<text class="tk" text-anchor="middle" transform="translate(1774.1 1729.0) scale(1 1.1)">10</text>
<text class="tk" text-anchor="middle" transform="translate(2002.4 1729.0) scale(1 1.1)">15</text>
<text class="tk" text-anchor="middle" transform="translate(2230.7 1729.0) scale(1 1.1)">20</text>
<text class="xl" text-anchor="middle" x="1774.1" y="1770.7">Time (min)</text>
<text class="yl" text-anchor="middle" transform="translate(1234.6 1293.4) rotate(-90)">Relative Abundance</text>
<text class="md" text-anchor="end" x="2233.7" y="973.9">Negative</text>
<polyline class="tr" points="1318.2,1676.2 1320.1,1674.6 1321.6,1666.9 1322.5,1654.7 1323.2,1651.9 1324.4,1657.0 1325.4,1656.5 1326.5,1653.1 1327.8,1659.0 1329.6,1659.6 1331.6,1658.5 1333.1,1662.4 1334.7,1663.2 1336.7,1661.6 1338.5,1663.2 1340.4,1661.6 1342.3,1662.1 1343.9,1660.1 1345.9,1662.4 1347.4,1662.7 1349.3,1666.2 1351.1,1667.3 1352.7,1662.4 1353.3,1631.6 1353.9,1600.9 1354.6,1570.2 1355.4,1539.5 1356.3,1493.4 1357.3,1462.6 1358.2,1454.2 1359.0,1485.7 1359.7,1539.5 1360.6,1585.6 1361.9,1613.2 1363.1,1622.5 1364.3,1629.8 1365.9,1625.5 1367.7,1623.2 1368.9,1616.3 1370.1,1607.8 1371.1,1623.9 1372.3,1636.3 1373.8,1632.4 1375.7,1629.3 1378.1,1628.9 1379.2,1622.5 1380.3,1616.0 1381.5,1628.6 1382.7,1635.5 1384.6,1637.8 1386.4,1640.1 1388.5,1641.6 1390.7,1644.0 1392.6,1644.7 1394.9,1642.7 1396.0,1647.0 1396.9,1649.8 1398.7,1645.4 1400.0,1631.6 1401.2,1616.3 1402.3,1600.9 1403.2,1591.7 1404.3,1600.9 1405.2,1604.7 1406.4,1593.2 1408.0,1582.5 1409.2,1574.5 1410.1,1593.2 1411.0,1608.6 1412.0,1620.9 1413.5,1625.5 1415.3,1628.6 1417.6,1633.2 1419.2,1640.9 1420.7,1646.3 1421.9,1649.3 1424.3,1649.3 1426.1,1645.8 1427.9,1652.4 1429.9,1648.5 1431.0,1636.3 1432.2,1627.8 1433.5,1639.3 1434.5,1650.8 1436.9,1655.5 1438.7,1652.4 1440.7,1646.3 1442.7,1644.0 1444.2,1653.1 1446.1,1652.8 1448.4,1651.3 1450.4,1653.9 1452.5,1659.3 1454.5,1659.0 1455.3,1647.0 1456.0,1637.0 1458.0,1639.0 1459.9,1644.7 1461.7,1657.8 1464.2,1658.5 1466.0,1654.7 1467.3,1647.0 1468.5,1636.3 1470.6,1639.3 1471.9,1644.0 1472.9,1649.8 1474.0,1642.4 1474.9,1636.3 1475.6,1600.9 1476.2,1554.8 1476.8,1527.1 1478.0,1527.9 1479.1,1529.5 1479.9,1554.8 1480.8,1600.9 1481.7,1631.6 1482.9,1657.8 1484.8,1661.6 1486.8,1663.9 1488.8,1662.7 1490.6,1661.6 1492.1,1647.0 1493.7,1636.3 1495.2,1630.9 1496.4,1630.1 1498.0,1636.3 1499.5,1644.0 1500.6,1650.8 1502.9,1652.8 1504.4,1650.1 1505.7,1644.0 1506.9,1630.9 1508.3,1636.3 1509.8,1642.4 1511.8,1648.5 1513.7,1653.9 1515.2,1659.0 1517.0,1650.8 1517.9,1631.6 1519.0,1608.6 1520.1,1588.6 1521.3,1571.7 1522.9,1568.4 1524.0,1567.1 1524.7,1577.9 1525.7,1596.3 1527.2,1600.1 1528.7,1608.6 1530.0,1615.5 1530.9,1605.5 1531.8,1597.9 1533.0,1608.6 1534.4,1619.4 1535.9,1628.6 1537.0,1637.8 1538.2,1646.7 1540.1,1644.7 1541.3,1631.6 1542.6,1616.3 1543.8,1606.7 1545.0,1616.3 1545.0,1608.6 1546.2,1623.9 1547.8,1640.6 1549.9,1640.9 1551.5,1628.6 1553.0,1623.9 1554.2,1623.2 1555.4,1639.3 1557.0,1642.7 1559.6,1643.6 1561.6,1634.7 1563.2,1619.4 1564.7,1600.9 1565.9,1584.3 1567.3,1600.9 1568.4,1613.2 1570.4,1617.8 1571.4,1608.6 1572.6,1585.6 1573.9,1556.7 1575.0,1593.2 1576.0,1620.1 1576.9,1600.9 1577.9,1570.2 1578.5,1501.1 1579.1,1447.3 1579.7,1385.8 1580.3,1324.4 1582.3,1242.4 1584.2,1309.0 1584.7,1370.5 1585.4,1431.9 1586.2,1478.0 1587.3,1524.1 1588.3,1554.8 1589.5,1582.5 1591.1,1593.2 1592.3,1600.9 1593.6,1605.8 1594.5,1597.9 1595.4,1591.4 1596.6,1596.3 1597.5,1600.1 1598.8,1596.3 1600.0,1588.6 1601.2,1570.2 1602.1,1524.1 1603.1,1462.6 1604.0,1416.5 1604.9,1395.0 1605.7,1386.6 1606.3,1416.5 1607.1,1443.4 1607.7,1401.2 1608.3,1355.1 1609.2,1320.5 1610.0,1370.5 1610.8,1431.9 1611.5,1493.4 1612.3,1554.8 1613.1,1590.2 1614.2,1570.2 1615.4,1539.5 1616.4,1521.0 1617.2,1511.0 1618.1,1539.5 1619.0,1577.9 1620.0,1600.9 1620.9,1616.3 1622.6,1613.2 1623.7,1608.6 1624.9,1585.6 1626.0,1570.2 1627.0,1557.9 1628.3,1570.2 1629.2,1585.6 1630.1,1608.6 1631.0,1620.9 1632.6,1621.6 1633.8,1627.0 1634.9,1630.4 1635.9,1616.3 1637.2,1610.1 1638.4,1608.3 1639.6,1612.4 1641.0,1617.1 1642.6,1618.1 1644.1,1617.8 1645.2,1611.7 1646.4,1605.8 1647.9,1608.6 1649.2,1610.9 1650.7,1612.4 1651.3,1554.8 1651.8,1493.4 1652.2,1447.3 1653.1,1454.9 1654.1,1467.3 1654.7,1508.7 1655.3,1554.8 1656.4,1590.2 1657.2,1562.5 1658.1,1539.5 1658.9,1508.7 1659.4,1478.0 1660.2,1452.2 1660.9,1493.4 1661.5,1539.5 1662.2,1577.9 1663.0,1593.2 1663.9,1609.4 1664.8,1593.2 1666.1,1575.1 1667.0,1593.2 1667.9,1606.3 1669.8,1608.6 1671.8,1607.1 1674.1,1606.3 1675.3,1593.2 1676.3,1580.6 1678.0,1581.7 1679.4,1596.3 1680.5,1603.2 1681.7,1607.1 1683.0,1600.9 1684.1,1577.9 1684.8,1554.8 1685.7,1537.2 1686.7,1547.2 1687.9,1562.5 1689.1,1585.6 1690.6,1604.7 1692.2,1606.3 1693.7,1606.3 1695.6,1600.9 1697.4,1594.8 1699.1,1582.5 1700.2,1562.5 1701.1,1524.1 1702.0,1462.6 1703.1,1400.4 1704.1,1447.3 1705.1,1493.4 1706.0,1539.5 1707.1,1580.2 1708.2,1574.8 1709.4,1570.2 1711.0,1568.4 1712.1,1577.9 1713.2,1587.1 1714.8,1590.2 1715.8,1580.9 1716.8,1576.1 1717.8,1585.6 1718.9,1595.6 1720.1,1590.2 1721.4,1585.6 1722.6,1578.6 1724.5,1579.4 1725.5,1587.1 1726.6,1593.6 1727.5,1570.2 1728.6,1539.5 1729.7,1508.7 1730.6,1497.7 1731.5,1524.1 1732.5,1552.6 1734.3,1553.3 1735.2,1570.2 1736.1,1593.2 1737.3,1599.4 1738.6,1600.9 1739.8,1593.2 1741.0,1577.9 1742.3,1568.4 1743.2,1577.9 1744.4,1593.2 1746.0,1603.2 1747.2,1593.2 1748.6,1577.9 1749.9,1564.0 1750.9,1585.6 1751.8,1603.2 1752.7,1593.2 1753.6,1591.7 1754.9,1600.9 1755.9,1606.3 1756.7,1585.6 1757.6,1539.5 1758.3,1462.6 1759.0,1385.8 1759.8,1342.5 1760.7,1385.8 1761.6,1431.9 1762.5,1470.3 1763.5,1501.8 1764.7,1493.4 1765.9,1492.6 1767.0,1501.1 1768.1,1508.7 1769.0,1539.5 1770.1,1577.9 1771.2,1594.0 1772.4,1588.6 1773.6,1577.9 1773.0,1585.6 1774.2,1573.2 1775.5,1562.5 1776.4,1577.9 1777.3,1597.9 1778.2,1604.0 1779.2,1608.6 1780.4,1593.2 1781.5,1562.5 1782.2,1539.5 1782.8,1528.7 1784.1,1529.0 1785.0,1535.6 1785.6,1493.4 1786.2,1447.3 1787.1,1407.4 1787.9,1447.3 1788.7,1508.7 1789.6,1554.8 1790.5,1585.6 1791.5,1593.6 1792.7,1586.8 1793.9,1593.2 1795.3,1599.8 1796.3,1577.9 1797.0,1524.1 1797.6,1447.3 1798.2,1370.5 1798.8,1335.9 1799.4,1385.8 1800.0,1462.6 1800.7,1539.5 1801.4,1577.9 1802.2,1599.4 1803.7,1604.0 1805.3,1612.4 1806.8,1620.9 1808.7,1622.5 1809.9,1616.3 1810.9,1608.6 1811.7,1570.2 1812.3,1508.7 1813.0,1416.5 1813.6,1339.7 1814.7,939.5 1816.3,1309.0 1816.8,1385.8 1817.6,1462.6 1818.0,1508.7 1818.5,1534.5 1819.4,1527.1 1820.3,1516.4 1820.9,1447.3 1821.5,1370.5 1822.2,1312.1 1823.1,1355.1 1824.0,1431.9 1824.9,1493.4 1825.8,1554.8 1826.8,1582.5 1827.8,1594.5 1828.9,1585.6 1830.0,1577.1 1831.4,1582.5 1832.3,1588.6 1833.2,1604.0 1834.1,1611.7 1835.2,1605.5 1836.0,1597.9 1836.7,1554.8 1837.5,1508.7 1838.8,1478.0 1839.7,1464.9 1840.6,1493.4 1841.4,1539.5 1842.1,1577.9 1843.0,1597.9 1844.0,1607.1 1845.5,1611.7 1847.1,1619.4 1848.6,1627.0 1849.8,1631.9 1851.4,1628.6 1852.3,1616.3 1853.2,1607.4 1854.4,1613.2 1855.6,1616.3 1856.7,1612.4 1857.8,1611.4 1858.8,1619.4 1859.8,1625.2 1860.9,1617.8 1862.1,1608.6 1863.3,1604.7 1864.6,1608.6 1866.0,1610.9 1867.9,1611.7 1869.5,1614.8 1870.6,1623.9 1871.3,1629.8 1872.3,1622.5 1873.2,1617.5 1874.4,1623.9 1875.6,1631.6 1877.2,1643.2 1879.3,1641.6 1880.3,1634.7 1881.0,1628.9 1882.1,1636.3 1883.0,1640.1 1884.9,1640.1 1886.7,1639.3 1887.9,1644.0 1889.2,1647.0 1891.0,1644.0 1892.1,1637.8 1893.0,1634.4 1894.0,1640.9 1895.1,1645.4 1896.7,1649.3 1898.7,1646.3 1900.8,1650.4 1902.0,1642.4 1903.3,1639.3 1904.8,1637.8 1905.9,1623.9 1907.0,1611.7 1907.9,1623.9 1909.0,1636.3 1910.0,1647.8 1912.0,1644.7 1914.0,1646.3 1915.1,1636.3 1915.9,1629.8 1918.2,1631.6 1919.3,1639.3 1920.5,1645.4 1922.0,1648.5 1924.3,1649.3 1925.1,1639.3 1925.9,1633.9 1927.0,1640.9 1928.2,1646.3 1930.0,1648.5 1932.0,1650.4 1933.5,1645.4 1935.1,1643.2 1937.1,1643.6 1938.9,1644.7 1940.2,1639.3 1941.1,1636.3 1942.0,1640.9 1942.9,1644.0 1945.1,1642.4 1946.0,1634.7 1946.9,1616.3 1947.8,1593.2 1948.7,1565.9 1950.0,1573.2 1950.9,1580.9 1951.9,1600.9 1952.8,1620.9 1953.7,1634.7 1954.6,1641.6 1955.8,1634.7 1956.7,1630.9 1958.9,1633.2 1960.4,1628.6 1962.9,1625.5 1964.1,1642.4 1966.3,1644.7 1967.8,1650.4 1970.0,1651.9 1972.1,1653.9 1974.0,1650.1 1975.5,1641.6 1977.3,1647.8 1978.9,1646.3 1980.7,1647.0 1982.7,1650.1 1984.7,1653.1 1986.6,1653.9 1988.4,1652.8 1989.9,1649.3 1991.5,1652.8 1993.5,1651.9 1995.8,1651.3 1997.3,1647.0 1998.2,1640.9 1999.6,1649.3 2000.7,1644.0 2001.0,1643.8 2002.5,1643.8 2004.0,1646.1 2005.2,1628.9 2006.4,1606.4 2007.6,1594.1 2008.5,1613.9 2009.4,1636.4 2010.3,1649.1 2011.5,1650.6 2013.0,1646.8 2014.2,1636.4 2015.2,1621.4 2016.3,1611.6 2017.2,1621.4 2018.4,1636.4 2019.3,1642.3 2020.5,1643.8 2022.0,1648.3 2023.8,1652.5 2025.3,1649.8 2027.2,1643.8 2028.9,1641.6 2030.2,1643.8 2031.6,1647.6 2032.8,1643.8 2034.3,1646.6 2035.2,1643.8 2035.8,1621.4 2036.4,1601.9 2037.0,1592.6 2038.2,1598.9 2039.3,1607.9 2040.3,1621.4 2041.0,1637.1 2041.8,1625.9 2042.7,1618.1 2043.7,1625.9 2044.8,1634.9 2046.0,1632.1 2047.1,1631.8 2048.7,1634.1 2049.8,1640.9 2051.3,1646.8 2052.9,1650.6 2054.4,1651.7 2055.8,1648.3 2057.6,1646.8 2059.4,1650.6 2061.3,1652.1 2063.2,1652.1 2064.7,1654.0 2066.3,1654.3 2067.8,1650.6 2069.3,1653.6 2070.8,1656.2 2072.3,1653.1 2074.1,1655.0 2075.9,1656.6 2077.7,1656.2 2078.9,1654.6 2080.4,1656.2 2082.2,1656.2 2083.7,1653.1 2085.6,1651.7 2087.6,1652.8 2089.4,1653.6 2090.9,1651.4 2091.8,1655.8 2092.7,1658.5 2093.9,1649.8 2094.8,1640.9 2095.5,1638.6 2096.3,1643.8 2097.2,1651.1 2098.7,1650.6 2100.2,1650.1 2101.1,1636.4 2102.0,1616.8 2103.0,1603.1 2104.1,1621.4 2105.0,1645.4 2106.5,1649.1 2108.3,1651.7 2110.1,1653.1 2111.9,1653.6 2113.1,1648.3 2114.1,1645.0 2115.0,1649.8 2115.9,1655.5 2117.6,1651.7 2119.7,1651.1 2122.1,1648.6 2124.2,1650.1 2126.5,1652.1 2128.4,1648.6 2130.5,1649.1 2132.6,1648.3 2134.0,1652.1 2135.4,1655.0 2136.7,1650.6 2138.2,1649.8 2139.7,1646.1 2141.8,1648.3 2143.4,1650.1 2144.5,1645.7 2146.0,1654.6 2147.8,1652.8 2149.3,1648.6 2150.8,1651.4 2152.6,1656.6 2154.6,1655.0 2156.5,1657.6 2158.3,1660.0 2159.8,1655.8 2161.3,1660.3 2162.8,1664.1 2165.1,1662.1 2167.0,1659.6 2168.8,1662.6 2170.3,1664.8 2171.8,1663.3 2173.3,1666.6 2175.5,1668.6 2177.5,1669.0 2179.0,1667.1 2180.8,1669.3 2182.6,1668.6 2184.5,1672.0 2186.8,1673.1 2189.1,1673.8 2191.0,1672.6 2192.8,1673.1 2194.6,1675.0 2196.5,1676.5 2198.8,1676.0 2201.0,1676.5 2203.3,1675.6 2206.3,1676.8 2209.3,1676.5 2212.3,1676.0 2215.3,1676.5 2218.3,1676.8 2222.0,1676.5 2225.8,1677.1 2231.0,1677.1"/>
</g>
<text class="lt" transform="translate(37.0 1899.2) scale(1.072 1.02)">C</text>
<g>
<path class="ax" d="M235.30 1827.95V2580.45M220.80 2566.15H1148.50M227.90 2529.24H235.30M220.80 2492.33H235.30M227.90 2455.42H235.30M220.80 2418.51H235.30M227.90 2381.60H235.30M220.80 2344.69H235.30M227.90 2307.78H235.30M220.80 2270.87H235.30M227.90 2233.96H235.30M220.80 2197.05H235.30M227.90 2160.14H235.30M220.80 2123.23H235.30M227.90 2086.32H235.30M220.80 2049.41H235.30M227.90 2012.50H235.30M220.80 1975.59H235.30M227.90 1938.68H235.30M220.80 1901.77H235.30M227.90 1864.86H235.30M220.80 1827.95H235.30M349.45 2566.15V2572.95M463.60 2566.15V2580.45M577.75 2566.15V2572.95M691.90 2566.15V2580.45M806.05 2566.15V2572.95M920.20 2566.15V2580.45M1034.35 2566.15V2572.95M1148.50 2566.15V2580.45"/>
<text class="tk" text-anchor="end" transform="translate(210.0 2577.6) scale(1 1.05)">0</text>
<text class="tk" text-anchor="end" transform="translate(210.0 2503.7) scale(1 1.05)">10</text>
<text class="tk" text-anchor="end" transform="translate(210.0 2429.9) scale(1 1.05)">20</text>
<text class="tk" text-anchor="end" transform="translate(210.0 2356.1) scale(1 1.05)">30</text>
<text class="tk" text-anchor="end" transform="translate(210.0 2282.3) scale(1 1.05)">40</text>
<text class="tk" text-anchor="end" transform="translate(210.0 2208.5) scale(1 1.05)">50</text>
<text class="tk" text-anchor="end" transform="translate(210.0 2134.6) scale(1 1.05)">60</text>
<text class="tk" text-anchor="end" transform="translate(210.0 2060.8) scale(1 1.05)">70</text>
<text class="tk" text-anchor="end" transform="translate(210.0 1987.0) scale(1 1.05)">80</text>
<text class="tk" text-anchor="end" transform="translate(210.0 1913.2) scale(1 1.05)">90</text>
<text class="tk" text-anchor="end" transform="translate(210.0 1839.4) scale(1 1.05)">100</text>
<text class="tk" text-anchor="middle" transform="translate(235.3 2616.8) scale(1 1.1)">0</text>
<text class="tk" text-anchor="middle" transform="translate(463.6 2616.8) scale(1 1.1)">5</text>
<text class="tk" text-anchor="middle" transform="translate(691.9 2616.8) scale(1 1.1)">10</text>
<text class="tk" text-anchor="middle" transform="translate(920.2 2616.8) scale(1 1.1)">15</text>
<text class="tk" text-anchor="middle" transform="translate(1148.5 2616.8) scale(1 1.1)">20</text>
<text class="xl" text-anchor="middle" x="691.9" y="2658.5">Time (min)</text>
<text class="yl" text-anchor="middle" transform="translate(152.4 2181.6) rotate(-90)">Relative Abundance</text>
<text class="md" text-anchor="end" x="1151.5" y="1862.4">Positive</text>
<polyline class="tr" points="236.5,2551.5 237.7,2553.1 238.7,2556.5 240.2,2553.8 241.7,2547.8 243.4,2544.5 244.3,2549.3 245.2,2554.6 247.0,2551.5 248.5,2553.8 250.0,2556.8 251.8,2556.5 253.3,2555.3 254.2,2540.3 255.1,2525.3 256.0,2540.3 256.9,2557.1 258.7,2555.0 260.5,2555.0 262.3,2556.0 264.2,2556.8 266.5,2556.0 268.7,2555.3 270.2,2553.8 271.0,2547.8 271.6,2525.3 272.1,2502.9 273.1,2486.4 274.0,2502.9 275.0,2528.1 276.1,2520.8 276.9,2511.9 277.9,2472.9 278.9,2444.4 280.0,2454.9 280.9,2462.1 282.1,2461.7 283.0,2463.9 284.2,2487.9 285.3,2510.3 286.9,2523.6 287.4,2502.9 288.0,2480.4 289.0,2469.6 289.8,2487.9 290.7,2514.8 291.9,2520.8 293.4,2529.8 294.9,2538.1 296.1,2540.6 297.2,2542.2 297.9,2517.9 298.7,2502.9 299.5,2495.1 300.3,2517.9 301.2,2547.1 303.2,2545.1 305.1,2544.1 306.9,2545.6 308.4,2549.3 309.9,2551.5 312.1,2552.3 314.4,2552.1 316.2,2552.3 317.4,2551.1 318.6,2553.8 319.7,2555.0 321.1,2550.8 322.2,2540.3 323.4,2532.6 324.6,2540.3 325.7,2544.8 327.2,2546.3 329.1,2546.6 330.9,2550.8 332.4,2555.3 333.9,2556.5 335.7,2554.1 337.6,2555.3 339.6,2556.0 341.7,2553.8 343.7,2554.6 345.9,2556.5 348.1,2555.3 349.2,2550.8 350.1,2549.3 351.3,2552.3 352.8,2555.0 354.9,2554.1 357.9,2553.8 360.5,2557.1 362.4,2556.0 364.5,2551.5 366.1,2554.1 368.0,2549.3 369.9,2552.3 372.1,2554.6 374.3,2556.0 376.6,2555.3 378.5,2556.0 380.4,2552.1 382.1,2555.3 384.1,2556.0 385.6,2550.1 387.1,2555.3 389.3,2555.0 391.6,2554.6 393.5,2552.3 395.3,2554.6 397.6,2555.3 399.5,2556.0 401.3,2553.8 403.1,2549.0 404.6,2555.3 406.6,2553.1 408.5,2550.8 410.3,2553.8 412.6,2555.0 413.3,2547.8 414.2,2543.6 415.1,2549.3 416.0,2555.3 417.8,2553.8 419.3,2555.3 420.8,2551.5 422.3,2552.6 423.8,2555.0 425.3,2551.1 426.8,2550.1 427.7,2543.3 428.6,2538.8 429.5,2544.8 430.5,2552.1 431.9,2548.6 433.1,2550.8 434.0,2555.0 435.8,2552.3 437.6,2551.5 439.1,2549.0 440.6,2546.6 442.5,2551.5 444.0,2549.0 445.5,2549.6 447.0,2552.3 448.1,2547.1 449.3,2543.6 451.0,2545.6 453.0,2547.1 454.1,2538.8 455.0,2532.6 456.0,2538.8 457.1,2545.1 458.6,2541.1 459.8,2538.8 461.3,2537.4 462.5,2526.9 463.8,2520.4 464.8,2529.6 466.8,2532.7 469.4,2534.3 470.7,2527.3 471.6,2524.2 473.5,2525.0 475.3,2525.8 477.1,2524.6 479.1,2528.9 481.1,2530.4 481.9,2519.6 482.7,2515.8 483.6,2522.7 484.5,2528.1 485.6,2518.9 486.8,2519.3 487.9,2520.4 489.4,2515.8 490.7,2514.3 493.0,2512.7 494.5,2510.4 495.6,2504.3 496.8,2496.6 498.3,2485.8 499.6,2475.1 501.1,2478.2 502.6,2482.8 504.2,2488.9 505.6,2498.2 506.8,2485.8 508.0,2478.2 509.9,2472.0 510.6,2458.2 511.4,2451.3 512.5,2458.2 513.4,2470.5 514.5,2450.5 515.6,2432.1 516.5,2442.8 517.3,2456.7 518.3,2435.1 519.5,2424.4 521.1,2416.7 522.0,2381.4 522.9,2362.2 523.8,2378.3 525.1,2396.7 526.3,2409.0 527.5,2419.8 528.8,2426.3 529.7,2396.7 530.8,2362.9 531.8,2381.4 532.9,2415.5 534.0,2389.1 535.2,2373.7 536.7,2355.2 537.8,2381.4 538.9,2413.6 539.8,2373.7 540.7,2332.2 542.3,2331.0 543.5,2326.1 544.7,2324.8 546.0,2330.7 546.9,2335.2 548.4,2363.2 549.3,2347.6 550.3,2333.8 551.8,2330.7 553.3,2327.6 554.6,2323.0 555.7,2326.1 556.6,2327.9 557.7,2318.4 558.9,2304.5 560.1,2286.1 561.3,2243.1 562.1,2212.3 564.1,2142.7 566.2,2206.2 567.5,2209.3 568.4,2211.1 570.3,2165.0 572.1,2140.7 573.3,2180.4 573.9,2238.5 575.9,2250.8 577.5,2281.5 579.0,2319.9 580.1,2339.2 581.6,2352.1 582.8,2327.6 583.8,2308.4 585.3,2303.0 586.8,2296.9 588.1,2281.5 588.7,2243.1 590.2,2103.5 591.8,2026.7 593.6,1965.3 594.8,1934.5 595.6,1923.5 596.7,1980.6 597.6,2042.1 598.5,2118.9 599.8,2180.4 600.5,2227.8 601.6,2259.6 603.1,2263.0 604.4,2289.2 605.4,2322.7 607.1,2323.0 608.2,2296.9 609.7,2273.8 611.3,2255.4 612.4,2212.3 612.8,2103.5 613.9,2011.4 615.1,1919.2 616.2,1857.7 617.1,1828.2 617.9,1919.2 618.5,2011.4 619.1,2103.5 620.0,2180.4 621.3,2227.8 622.8,2289.2 624.3,2327.6 625.6,2350.7 626.8,2367.2 628.6,2362.9 629.7,2358.3 630.8,2319.9 632.0,2273.8 632.8,2227.8 633.2,2103.5 633.9,2011.4 634.6,1937.6 635.7,2026.7 636.6,2118.9 637.8,2197.0 638.6,2227.8 639.7,2289.2 640.9,2330.7 642.8,2340.6 643.7,2366.0 644.6,2384.4 646.1,2389.1 647.7,2381.4 648.9,2376.7 649.7,2319.9 650.4,2220.1 650.8,2103.5 651.4,1980.6 652.0,1919.9 652.6,2026.7 653.2,2118.9 654.0,2212.3 654.5,2255.4 656.0,2319.9 657.5,2366.0 658.4,2372.2 660.0,2378.3 661.2,2393.6 662.3,2401.3 663.4,2381.4 664.3,2366.0 665.2,2289.2 665.8,2212.3 666.0,2174.5 667.3,2212.3 668.1,2227.8 669.2,2289.2 670.4,2356.8 672.3,2381.4 674.3,2404.4 675.8,2415.9 677.3,2404.4 678.4,2381.4 679.6,2343.0 680.6,2289.2 681.8,2239.3 682.7,2289.2 683.6,2381.4 685.0,2393.6 686.1,2404.4 687.0,2427.4 687.6,2440.5 688.6,2424.4 689.6,2419.8 691.6,2418.2 691.8,2366.0 692.5,2327.6 693.3,2306.4 694.1,2335.2 695.0,2366.0 696.2,2393.6 697.5,2409.0 699.0,2418.2 701.1,2422.9 702.4,2412.1 703.6,2389.1 704.8,2364.5 705.9,2373.7 707.2,2379.8 709.4,2384.4 710.7,2424.4 712.5,2412.1 714.0,2393.6 715.3,2373.7 716.2,2350.7 716.8,2343.3 717.6,2366.0 718.7,2396.7 719.9,2412.1 720.9,2421.3 722.5,2422.9 723.7,2430.5 724.8,2437.5 725.7,2419.8 726.6,2407.5 727.6,2418.2 728.5,2427.7 729.7,2421.3 731.3,2418.2 732.8,2413.6 734.3,2411.3 735.2,2418.2 736.3,2426.7 737.6,2419.8 738.9,2409.0 740.2,2396.7 741.1,2381.4 742.0,2367.6 742.8,2389.1 743.9,2415.5 744.8,2401.3 746.3,2400.6 748.2,2401.3 749.4,2424.4 750.6,2412.1 751.7,2407.8 753.7,2409.8 755.6,2412.1 757.4,2408.7 759.4,2411.3 760.4,2419.8 761.7,2432.8 762.9,2428.3 764.1,2432.1 765.5,2438.2 766.9,2433.6 768.1,2412.1 769.1,2398.6 770.0,2412.1 771.2,2433.6 772.4,2419.8 773.7,2407.8 775.5,2406.0 777.3,2404.1 779.2,2405.7 780.4,2412.1 781.3,2415.9 782.3,2404.4 783.2,2394.9 784.1,2404.4 785.0,2417.5 785.6,2366.0 786.3,2319.9 787.0,2275.7 787.8,2319.9 788.4,2366.0 789.0,2412.1 789.8,2432.1 790.8,2436.4 792.4,2427.4 794.2,2425.2 795.2,2416.7 796.2,2409.8 797.8,2415.2 798.8,2424.4 800.1,2434.4 801.6,2429.7 802.9,2419.8 803.9,2412.4 805.5,2412.1 806.6,2404.4 807.1,2402.1 808.1,2415.2 809.0,2425.6 810.2,2415.2 812.1,2414.4 813.1,2409.0 814.2,2405.1 815.5,2412.1 816.2,2415.9 817.7,2412.1 818.8,2405.7 820.8,2406.0 821.6,2424.4 822.5,2437.9 823.4,2412.1 824.7,2387.5 825.6,2412.1 826.6,2436.4 827.7,2427.4 828.7,2412.1 829.6,2399.8 830.3,2391.3 831.1,2404.4 832.0,2418.2 833.9,2415.2 835.1,2406.0 837.0,2405.1 838.5,2398.3 839.4,2389.1 840.0,2366.0 840.9,2346.3 842.2,2353.7 843.1,2359.8 843.9,2381.4 844.6,2396.4 846.2,2395.2 847.1,2389.1 847.7,2373.7 848.3,2335.2 848.9,2304.5 849.9,2266.1 850.9,2249.5 852.0,2266.1 852.9,2289.2 854.2,2296.9 855.1,2307.6 856.2,2326.1 857.2,2313.8 858.0,2301.8 858.9,2319.9 860.0,2338.3 861.3,2350.3 862.2,2335.2 862.9,2321.1 864.0,2343.0 864.9,2370.3 865.9,2353.7 866.9,2340.2 868.0,2350.7 869.2,2358.3 870.8,2366.0 871.7,2378.3 872.6,2385.2 873.9,2369.1 875.4,2366.0 877.2,2362.9 878.7,2356.8 880.3,2349.1 881.8,2349.9 883.0,2362.9 884.6,2376.7 886.1,2381.4 887.4,2373.7 888.4,2358.3 889.7,2347.6 890.7,2335.2 892.3,2334.1 893.2,2343.0 894.1,2358.3 895.4,2369.1 896.3,2358.3 897.1,2346.8 897.8,2362.9 898.4,2372.2 899.7,2366.0 900.7,2373.7 901.8,2379.1 902.7,2366.0 903.8,2357.5 905.3,2356.8 906.9,2358.3 908.4,2362.9 909.2,2373.7 910.1,2383.7 911.5,2372.2 913.5,2367.6 915.0,2362.9 916.1,2360.6 916.9,2381.4 917.6,2392.2 918.7,2384.4 919.0,2381.4 919.9,2369.1 921.2,2361.4 922.4,2373.7 923.6,2379.8 924.9,2375.3 926.1,2392.9 927.0,2366.0 927.6,2349.9 928.5,2366.0 929.5,2381.4 930.2,2389.1 931.3,2371.4 932.5,2381.4 933.6,2393.6 934.7,2398.3 935.9,2396.0 936.8,2381.4 937.7,2368.3 939.0,2366.0 940.2,2356.8 941.3,2362.9 942.3,2369.1 943.6,2367.6 944.7,2366.8 945.6,2381.4 946.6,2396.7 947.9,2401.7 948.8,2389.1 949.7,2373.7 950.7,2390.6 951.6,2384.4 952.5,2375.3 953.6,2386.0 954.6,2376.7 955.6,2376.0 956.5,2389.1 957.4,2397.0 958.6,2384.4 959.9,2376.7 961.7,2376.0 963.3,2381.4 964.8,2389.1 966.0,2392.2 967.0,2378.3 967.7,2367.6 968.5,2381.4 969.4,2392.9 970.9,2394.4 972.2,2378.3 973.3,2369.1 974.6,2366.8 975.9,2370.6 976.8,2381.4 977.7,2386.3 978.9,2387.5 979.8,2373.7 980.7,2366.3 982.0,2367.2 982.9,2381.4 983.9,2390.6 985.1,2381.4 986.6,2373.7 988.1,2366.0 989.4,2359.8 990.9,2360.6 992.1,2367.6 993.3,2373.7 994.3,2381.4 995.4,2392.9 996.5,2378.3 997.4,2372.2 998.3,2379.8 999.2,2366.0 1000.1,2358.3 1001.3,2364.5 1002.4,2359.8 1003.5,2362.9 1004.7,2367.6 1005.8,2373.7 1006.7,2381.4 1007.5,2358.3 1008.3,2341.4 1009.1,2362.9 1009.6,2379.8 1010.6,2362.9 1011.2,2354.5 1011.9,2366.0 1012.7,2376.0 1013.9,2358.3 1015.0,2346.0 1015.8,2343.7 1016.7,2375.3 1017.6,2358.3 1018.9,2352.1 1019.8,2363.7 1020.7,2350.7 1021.9,2343.0 1023.2,2341.4 1023.8,2304.5 1024.7,2271.1 1025.6,2312.2 1026.5,2350.7 1027.5,2382.6 1028.4,2366.0 1029.0,2358.3 1029.9,2370.6 1031.2,2366.0 1032.1,2367.6 1033.0,2403.7 1033.9,2373.7 1035.0,2351.9 1036.1,2362.9 1037.3,2378.3 1038.2,2387.5 1039.6,2381.4 1040.7,2393.6 1041.9,2404.4 1043.2,2412.1 1044.2,2418.2 1045.3,2396.7 1046.2,2389.1 1047.7,2384.4 1049.3,2376.7 1050.5,2372.2 1051.4,2386.0 1052.3,2373.7 1053.4,2352.5 1054.2,2381.4 1055.0,2413.9 1056.0,2396.7 1057.0,2384.4 1058.0,2369.4 1059.1,2375.3 1060.1,2396.7 1061.0,2427.1 1062.2,2419.8 1063.7,2418.2 1064.9,2406.7 1066.2,2415.2 1067.3,2422.9 1068.3,2432.1 1069.6,2443.6 1070.8,2416.7 1071.9,2430.5 1072.9,2435.1 1074.2,2432.1 1075.7,2432.1 1077.0,2413.9 1077.5,2442.8 1078.2,2487.4 1079.1,2450.5 1080.0,2426.7 1081.2,2430.5 1082.2,2439.8 1083.1,2450.5 1084.2,2464.4 1085.3,2455.1 1086.8,2440.5 1088.0,2458.2 1088.6,2474.3 1089.8,2450.5 1090.8,2465.9 1091.7,2490.1 1093.2,2488.9 1094.2,2473.6 1095.1,2450.5 1096.0,2426.3 1096.9,2445.9 1098.1,2425.9 1099.1,2450.5 1100.0,2470.2 1101.1,2419.5 1102.2,2445.9 1103.1,2465.9 1104.1,2488.9 1105.2,2491.2 1105.8,2504.3 1106.4,2538.4 1107.4,2473.6 1108.3,2440.5 1109.2,2465.9 1110.1,2488.9 1111.1,2527.3 1112.3,2537.3 1113.2,2504.3 1114.1,2468.6 1115.0,2533.4 1116.3,2528.9 1117.2,2504.3 1118.3,2471.2 1119.5,2481.3 1120.3,2496.6 1121.2,2545.8 1122.1,2519.6 1123.0,2518.1 1123.9,2550.1 1124.9,2535.0 1126.1,2522.7 1127.6,2513.5 1128.9,2508.6 1130.1,2516.5 1131.3,2519.6 1132.2,2510.7 1133.3,2522.7 1134.4,2532.0 1135.6,2533.4 1136.9,2530.4 1138.0,2538.1 1138.7,2544.2 1139.6,2547.3 1140.6,2535.0 1142.1,2532.7 1143.3,2538.1 1144.4,2544.5 1145.3,2546.5 1146.4,2541.1 1147.9,2537.3 1149.0,2536.5"/>
</g>
<g>
<path class="ax" d="M1317.50 1827.95V2580.45M1303.00 2566.15H2230.70M1310.10 2529.24H1317.50M1303.00 2492.33H1317.50M1310.10 2455.42H1317.50M1303.00 2418.51H1317.50M1310.10 2381.60H1317.50M1303.00 2344.69H1317.50M1310.10 2307.78H1317.50M1303.00 2270.87H1317.50M1310.10 2233.96H1317.50M1303.00 2197.05H1317.50M1310.10 2160.14H1317.50M1303.00 2123.23H1317.50M1310.10 2086.32H1317.50M1303.00 2049.41H1317.50M1310.10 2012.50H1317.50M1303.00 1975.59H1317.50M1310.10 1938.68H1317.50M1303.00 1901.77H1317.50M1310.10 1864.86H1317.50M1303.00 1827.95H1317.50M1431.65 2566.15V2572.95M1545.80 2566.15V2580.45M1659.95 2566.15V2572.95M1774.10 2566.15V2580.45M1888.25 2566.15V2572.95M2002.40 2566.15V2580.45M2116.55 2566.15V2572.95M2230.70 2566.15V2580.45"/>
<text class="tk" text-anchor="end" transform="translate(1292.2 2577.6) scale(1 1.05)">0</text>
<text class="tk" text-anchor="end" transform="translate(1292.2 2503.7) scale(1 1.05)">10</text>
<text class="tk" text-anchor="end" transform="translate(1292.2 2429.9) scale(1 1.05)">20</text>
<text class="tk" text-anchor="end" transform="translate(1292.2 2356.1) scale(1 1.05)">30</text>
<text class="tk" text-anchor="end" transform="translate(1292.2 2282.3) scale(1 1.05)">40</text>
<text class="tk" text-anchor="end" transform="translate(1292.2 2208.5) scale(1 1.05)">50</text>
<text class="tk" text-anchor="end" transform="translate(1292.2 2134.6) scale(1 1.05)">60</text>
<text class="tk" text-anchor="end" transform="translate(1292.2 2060.8) scale(1 1.05)">70</text>
<text class="tk" text-anchor="end" transform="translate(1292.2 1987.0) scale(1 1.05)">80</text>
<text class="tk" text-anchor="end" transform="translate(1292.2 1913.2) scale(1 1.05)">90</text>
<text class="tk" text-anchor="end" transform="translate(1292.2 1839.4) scale(1 1.05)">100</text>
<text class="tk" text-anchor="middle" transform="translate(1317.5 2616.8) scale(1 1.1)">0</text>
<text class="tk" text-anchor="middle" transform="translate(1545.8 2616.8) scale(1 1.1)">5</text>
<text class="tk" text-anchor="middle" transform="translate(1774.1 2616.8) scale(1 1.1)">10</text>
<text class="tk" text-anchor="middle" transform="translate(2002.4 2616.8) scale(1 1.1)">15</text>
<text class="tk" text-anchor="middle" transform="translate(2230.7 2616.8) scale(1 1.1)">20</text>
<text class="xl" text-anchor="middle" x="1774.1" y="2658.5">Time (min)</text>
<text class="yl" text-anchor="middle" transform="translate(1234.6 2181.6) rotate(-90)">Relative Abundance</text>
<text class="md" text-anchor="end" x="2233.7" y="1862.4">Negative</text>
<polyline class="tr" points="1319.2,2564.6 1320.7,2561.3 1321.9,2555.3 1323.0,2550.5 1324.8,2549.0 1326.7,2550.8 1328.2,2555.3 1329.7,2557.6 1331.7,2556.0 1333.5,2557.1 1335.3,2558.0 1336.8,2560.1 1338.7,2558.6 1341.0,2558.0 1343.2,2557.6 1345.5,2557.6 1347.7,2558.6 1349.6,2560.1 1350.9,2560.5 1351.7,2547.8 1352.7,2532.9 1353.8,2502.9 1355.1,2480.4 1356.3,2468.4 1358.2,2460.9 1359.0,2480.4 1359.7,2502.9 1360.5,2520.1 1362.2,2530.1 1363.8,2520.8 1364.9,2510.3 1366.1,2505.5 1368.2,2505.1 1369.5,2514.8 1370.6,2525.3 1372.2,2542.6 1373.9,2541.9 1375.7,2539.6 1378.1,2538.8 1379.2,2544.8 1380.2,2548.1 1382.2,2549.0 1384.1,2549.6 1386.2,2549.0 1387.4,2552.3 1388.6,2554.1 1390.4,2552.3 1392.7,2555.0 1394.6,2552.6 1396.7,2553.1 1398.7,2555.3 1400.6,2554.1 1402.4,2551.5 1403.3,2544.8 1404.2,2536.5 1406.3,2538.8 1408.1,2532.9 1409.6,2525.3 1410.6,2518.6 1411.7,2532.9 1412.9,2544.8 1414.7,2547.1 1416.2,2552.3 1417.7,2555.0 1419.2,2556.0 1421.1,2553.1 1423.1,2550.1 1425.2,2550.8 1427.1,2551.1 1429.4,2549.6 1431.6,2552.3 1433.9,2553.1 1436.1,2555.3 1438.1,2556.5 1439.5,2556.0 1441.1,2549.3 1442.6,2543.3 1443.6,2539.1 1445.9,2540.3 1448.1,2543.3 1449.1,2550.8 1450.4,2555.3 1451.8,2557.1 1453.7,2555.3 1455.2,2550.8 1456.4,2544.8 1457.3,2540.6 1459.0,2542.6 1460.6,2545.6 1462.3,2550.1 1464.2,2553.8 1466.1,2557.6 1467.6,2557.6 1469.1,2555.3 1471.3,2554.6 1473.1,2553.8 1475.1,2553.5 1476.1,2540.3 1477.3,2532.9 1478.5,2524.6 1479.6,2532.9 1480.6,2543.3 1481.8,2553.8 1483.0,2555.3 1484.8,2556.5 1487.1,2553.1 1489.3,2552.1 1490.8,2553.1 1492.6,2555.3 1494.6,2556.8 1496.1,2559.1 1498.3,2560.5 1500.6,2561.6 1502.8,2561.3 1505.0,2559.8 1507.0,2556.8 1508.8,2553.1 1510.3,2551.5 1511.8,2554.6 1513.3,2558.3 1515.1,2559.8 1517.0,2560.5 1519.0,2561.0 1520.5,2559.1 1522.0,2555.3 1523.0,2547.8 1523.8,2535.8 1525.0,2523.9 1526.0,2521.6 1527.5,2520.5 1529.8,2522.4 1531.0,2529.8 1532.1,2535.8 1534.0,2539.6 1535.8,2540.0 1537.3,2545.6 1538.8,2548.6 1540.3,2549.3 1541.7,2540.3 1543.2,2525.3 1544.7,2516.3 1546.2,2512.0 1547.2,2527.3 1548.4,2546.5 1550.4,2550.4 1552.4,2551.9 1554.5,2548.8 1556.7,2549.2 1558.0,2553.5 1560.0,2556.6 1561.9,2558.0 1563.7,2556.2 1565.8,2555.0 1567.3,2552.7 1568.0,2548.8 1568.8,2545.8 1570.4,2548.1 1571.4,2548.1 1572.6,2545.8 1573.6,2535.0 1574.7,2521.2 1575.7,2535.0 1576.7,2545.8 1577.9,2535.0 1578.8,2524.2 1579.7,2496.6 1581.0,2458.2 1581.9,2435.1 1582.6,2417.0 1583.4,2442.8 1584.3,2465.9 1585.3,2485.8 1586.5,2501.2 1588.0,2510.4 1589.3,2512.0 1590.5,2532.0 1592.6,2533.8 1593.9,2530.4 1594.9,2524.2 1596.3,2514.7 1597.5,2521.2 1598.8,2527.3 1600.6,2529.2 1601.6,2512.0 1602.5,2496.6 1603.4,2442.8 1604.0,2396.7 1604.6,2376.0 1605.5,2389.1 1606.4,2412.1 1607.2,2458.2 1608.0,2479.7 1609.1,2458.2 1610.1,2445.6 1611.0,2473.6 1612.3,2496.6 1613.5,2527.3 1614.9,2526.6 1616.3,2525.8 1617.2,2516.5 1618.1,2510.7 1619.4,2516.5 1620.3,2527.3 1621.8,2541.1 1623.4,2532.0 1624.1,2519.6 1624.9,2488.9 1625.5,2448.6 1626.8,2449.7 1628.0,2451.3 1628.9,2488.9 1629.8,2512.0 1631.0,2535.0 1632.3,2541.1 1633.8,2544.5 1635.7,2547.3 1636.9,2539.6 1638.1,2534.3 1639.4,2529.6 1640.5,2530.4 1642.1,2534.3 1643.6,2537.3 1645.5,2538.8 1647.3,2538.4 1649.2,2543.5 1650.7,2538.1 1651.9,2527.3 1652.9,2504.3 1653.5,2458.2 1654.1,2396.7 1654.7,2319.9 1655.3,2227.8 1657.5,1828.0 1659.4,2197.0 1660.2,2258.5 1661.1,2319.9 1662.1,2381.4 1663.0,2458.2 1663.9,2504.3 1664.8,2530.4 1666.4,2535.0 1668.7,2537.8 1670.7,2535.0 1672.5,2535.3 1673.5,2527.3 1674.7,2519.6 1675.6,2524.2 1676.8,2532.3 1678.0,2524.2 1679.0,2522.7 1680.2,2527.3 1681.4,2535.0 1682.6,2539.3 1684.1,2532.0 1684.8,2527.3 1685.4,2473.6 1686.0,2412.1 1686.5,2394.4 1687.3,2427.4 1688.2,2465.9 1689.1,2488.9 1690.4,2500.5 1691.0,2458.2 1691.6,2412.1 1692.3,2383.7 1693.1,2427.4 1694.0,2465.9 1695.2,2496.6 1696.5,2512.0 1697.9,2507.4 1699.4,2501.2 1701.0,2495.1 1702.0,2488.9 1703.0,2473.6 1704.0,2461.0 1705.1,2481.3 1706.0,2494.3 1707.8,2495.1 1708.8,2512.0 1709.7,2521.9 1711.9,2521.5 1713.1,2507.4 1714.0,2502.0 1715.2,2508.9 1716.2,2496.6 1717.1,2484.3 1717.8,2478.5 1718.6,2496.6 1719.7,2522.4 1720.8,2513.5 1721.7,2508.1 1722.5,2519.6 1723.5,2525.8 1725.1,2522.7 1726.6,2512.0 1727.8,2496.6 1729.1,2484.3 1730.3,2488.9 1731.5,2496.6 1732.5,2488.9 1733.7,2481.3 1734.7,2496.6 1735.8,2512.0 1737.1,2527.3 1738.3,2537.3 1739.4,2542.7 1740.4,2535.0 1741.7,2527.3 1742.9,2513.5 1744.0,2524.2 1745.1,2532.0 1746.2,2524.2 1747.2,2504.3 1748.1,2488.9 1749.0,2480.4 1749.9,2496.6 1750.9,2519.6 1752.1,2527.3 1753.3,2529.6 1755.2,2525.8 1756.1,2504.3 1757.0,2458.2 1757.6,2404.4 1758.3,2319.9 1759.0,2216.7 1759.8,2289.2 1760.7,2350.7 1761.6,2396.7 1762.9,2442.8 1763.8,2473.6 1764.7,2495.8 1765.6,2481.3 1766.7,2472.8 1767.8,2488.9 1768.7,2504.3 1769.9,2519.6 1771.2,2528.9 1772.7,2534.3 1773.9,2530.4 1774.2,2527.3 1775.3,2519.6 1776.4,2515.4 1777.3,2524.2 1778.4,2533.4 1780.4,2534.3 1781.5,2519.6 1783.0,2507.4 1784.5,2498.2 1786.1,2492.0 1787.1,2484.3 1787.9,2480.4 1788.8,2488.9 1789.9,2504.3 1791.1,2516.5 1792.4,2525.8 1793.7,2534.3 1794.5,2488.9 1795.3,2427.4 1796.1,2366.0 1796.8,2289.2 1797.6,2235.4 1798.3,2226.9 1799.4,2228.5 1800.0,2258.5 1800.7,2335.2 1801.3,2412.1 1801.9,2465.9 1802.8,2468.9 1804.1,2472.0 1805.0,2496.6 1805.9,2519.6 1807.1,2532.0 1808.3,2538.1 1809.9,2540.4 1811.4,2537.3 1812.6,2530.4 1813.6,2519.6 1814.2,2473.6 1814.6,2412.1 1815.0,2365.2 1815.7,2396.7 1816.7,2419.8 1817.6,2442.8 1818.3,2473.6 1819.1,2496.9 1820.6,2495.1 1821.2,2458.2 1821.9,2381.4 1822.5,2319.9 1823.1,2273.8 1823.7,2319.9 1824.3,2381.4 1825.2,2442.8 1826.2,2488.9 1827.1,2512.0 1828.3,2527.3 1829.2,2530.4 1830.8,2531.2 1831.7,2536.5 1832.9,2542.7 1834.8,2541.1 1835.7,2527.3 1836.7,2496.6 1837.8,2473.6 1838.8,2459.0 1840.0,2465.9 1841.2,2481.3 1842.5,2496.6 1843.7,2512.0 1845.2,2527.3 1846.7,2535.0 1848.3,2541.9 1850.6,2545.0 1852.0,2541.1 1852.9,2527.3 1853.8,2514.3 1854.9,2522.7 1856.0,2529.6 1858.3,2530.7 1859.3,2538.1 1860.3,2542.7 1862.1,2543.9 1864.4,2544.2 1866.7,2543.5 1868.6,2543.9 1870.6,2546.5 1872.1,2548.8 1874.1,2548.1 1875.6,2551.2 1877.5,2555.0 1879.3,2553.5 1880.9,2549.6 1882.9,2551.2 1885.1,2553.2 1887.5,2554.2 1890.1,2555.3 1892.1,2553.5 1893.6,2551.6 1895.6,2552.7 1897.7,2555.0 1899.8,2554.2 1902.0,2552.7 1904.8,2551.9 1906.4,2551.2 1907.6,2550.1 1909.0,2552.7 1910.5,2555.0 1912.5,2556.2 1914.4,2555.0 1916.7,2551.6 1918.7,2552.7 1920.5,2555.7 1922.8,2556.2 1924.8,2555.0 1927.0,2555.7 1929.4,2556.2 1931.5,2555.3 1934.0,2554.2 1935.9,2551.9 1937.4,2555.0 1939.3,2557.3 1940.8,2554.7 1942.8,2554.2 1944.8,2553.2 1946.3,2550.4 1947.2,2544.2 1948.2,2539.9 1950.4,2540.8 1951.5,2544.2 1953.1,2548.8 1954.6,2552.7 1956.1,2554.2 1957.4,2548.1 1958.6,2549.6 1959.8,2548.8 1961.4,2541.9 1962.6,2549.6 1964.3,2551.9 1966.3,2553.2 1968.1,2555.7 1969.7,2557.3 1971.5,2555.7 1973.5,2554.2 1974.9,2548.8 1976.6,2548.5 1978.1,2555.0 1980.1,2554.7 1982.3,2555.7 1984.7,2557.7 1986.9,2557.3 1989.3,2557.3 1991.2,2556.2 1993.5,2556.2 1995.5,2556.8 1996.6,2550.4 1997.6,2545.8 1998.8,2551.6 2000.7,2551.9 2001.0,2551.7 2002.5,2553.2 2004.0,2554.6 2005.5,2553.2 2007.3,2555.2 2009.2,2554.6 2011.5,2555.4 2014.5,2556.6 2016.0,2554.6 2017.5,2553.6 2019.3,2555.2 2022.0,2553.9 2023.8,2554.6 2026.2,2553.9 2028.0,2551.2 2029.8,2552.4 2031.0,2553.9 2032.8,2552.7 2035.8,2552.4 2037.0,2547.9 2038.5,2544.6 2040.0,2547.9 2041.8,2549.4 2043.3,2543.4 2045.2,2541.9 2047.1,2540.8 2048.7,2544.9 2050.2,2549.4 2051.9,2550.2 2053.7,2552.4 2055.2,2553.2 2057.2,2550.6 2059.4,2551.2 2061.7,2552.4 2064.7,2553.6 2066.9,2551.7 2069.2,2552.7 2071.4,2552.4 2073.7,2554.2 2075.9,2554.6 2078.1,2553.2 2080.1,2554.2 2082.7,2553.2 2084.9,2551.2 2086.7,2550.2 2088.7,2552.7 2090.9,2554.6 2093.2,2553.2 2095.1,2551.7 2097.2,2550.6 2099.9,2550.6 2101.7,2551.7 2103.2,2549.4 2105.9,2550.2 2107.7,2550.6 2109.2,2552.7 2111.1,2550.2 2112.6,2549.4 2114.3,2544.9 2116.1,2552.1 2117.9,2550.2 2119.7,2549.4 2121.8,2550.6 2123.9,2548.7 2126.1,2550.9 2128.4,2551.7 2130.6,2549.1 2132.6,2549.1 2134.7,2550.2 2136.6,2551.2 2137.6,2549.7 2138.8,2551.7 2141.1,2548.7 2143.4,2549.7 2145.6,2549.4 2148.6,2552.4 2150.8,2550.9 2152.0,2552.4 2153.9,2549.1 2155.3,2553.6 2157.6,2553.2 2159.8,2552.7 2162.1,2553.9 2164.0,2555.4 2165.8,2556.9 2168.1,2557.7 2170.0,2556.9 2172.6,2559.6 2174.8,2560.2 2177.0,2560.7 2179.3,2561.7 2181.6,2562.2 2184.5,2562.6 2187.6,2562.2 2190.6,2563.6 2194.3,2564.4 2198.8,2564.7 2203.3,2564.4 2207.8,2564.7 2212.3,2564.4 2216.8,2564.1 2221.2,2564.4 2225.8,2564.1 2231.0,2564.7"/>
</g>
<text class="lt" transform="translate(37.5 2789.7) scale(1.028 1.012)">D</text>
<g>
<path class="ax" d="M235.30 2717.30V3469.65M220.80 3455.35H1148.50M227.90 3418.45H235.30M220.80 3381.55H235.30M227.90 3344.64H235.30M220.80 3307.74H235.30M227.90 3270.84H235.30M220.80 3233.94H235.30M227.90 3197.03H235.30M220.80 3160.13H235.30M227.90 3123.23H235.30M220.80 3086.33H235.30M227.90 3049.42H235.30M220.80 3012.52H235.30M227.90 2975.62H235.30M220.80 2938.72H235.30M227.90 2901.81H235.30M220.80 2864.91H235.30M227.90 2828.01H235.30M220.80 2791.11H235.30M227.90 2754.20H235.30M220.80 2717.30H235.30M349.45 3455.35V3462.15M463.60 3455.35V3469.65M577.75 3455.35V3462.15M691.90 3455.35V3469.65M806.05 3455.35V3462.15M920.20 3455.35V3469.65M1034.35 3455.35V3462.15M1148.50 3455.35V3469.65"/>
<text class="tk" text-anchor="end" transform="translate(210.0 3466.8) scale(1 1.05)">0</text>
<text class="tk" text-anchor="end" transform="translate(210.0 3392.9) scale(1 1.05)">10</text>
<text class="tk" text-anchor="end" transform="translate(210.0 3319.1) scale(1 1.05)">20</text>
<text class="tk" text-anchor="end" transform="translate(210.0 3245.3) scale(1 1.05)">30</text>
<text class="tk" text-anchor="end" transform="translate(210.0 3171.5) scale(1 1.05)">40</text>
<text class="tk" text-anchor="end" transform="translate(210.0 3097.7) scale(1 1.05)">50</text>
<text class="tk" text-anchor="end" transform="translate(210.0 3023.9) scale(1 1.05)">60</text>
<text class="tk" text-anchor="end" transform="translate(210.0 2950.1) scale(1 1.05)">70</text>
<text class="tk" text-anchor="end" transform="translate(210.0 2876.3) scale(1 1.05)">80</text>
<text class="tk" text-anchor="end" transform="translate(210.0 2802.5) scale(1 1.05)">90</text>
<text class="tk" text-anchor="end" transform="translate(210.0 2728.7) scale(1 1.05)">100</text>
<text class="tk" text-anchor="middle" transform="translate(235.3 3504.3) scale(1 0.93)">0</text>
<text class="tk" text-anchor="middle" transform="translate(463.6 3504.3) scale(1 0.93)">5</text>
<text class="tk" text-anchor="middle" transform="translate(691.9 3504.3) scale(1 0.93)">10</text>
<text class="tk" text-anchor="middle" transform="translate(920.2 3504.3) scale(1 0.93)">15</text>
<text class="tk" text-anchor="middle" transform="translate(1148.5 3504.3) scale(1 0.93)">20</text>
<text class="xl" text-anchor="middle" transform="translate(691.9 3538.6) scale(1 0.82)">Time (min)</text>
<text class="yl" text-anchor="middle" transform="translate(152.4 3070.8) rotate(-90)">Relative Abundance</text>
<text class="md" text-anchor="end" x="1151.5" y="2751.7">Positive</text>
<polyline class="tr" points="236.2,3440.8 237.1,3427.3 238.6,3419.8 239.5,3433.3 240.4,3441.1 241.9,3440.0 243.4,3436.6 244.9,3438.5 246.7,3437.8 248.5,3440.4 250.3,3443.0 252.2,3443.0 253.3,3436.3 254.2,3432.5 255.7,3434.8 257.2,3439.6 259.0,3444.1 259.9,3437.8 260.8,3434.0 262.0,3439.3 263.2,3441.5 264.7,3442.3 266.5,3444.1 268.7,3442.3 270.6,3440.0 271.7,3433.3 272.7,3421.3 274.0,3406.3 274.8,3391.4 275.8,3368.9 276.7,3338.9 277.5,3301.4 278.4,3264.0 279.4,3242.3 280.2,3271.4 281.1,3301.4 282.1,3326.9 283.0,3350.8 283.8,3368.9 285.0,3383.8 286.3,3390.5 287.4,3394.6 289.0,3391.4 290.1,3386.9 291.1,3383.8 291.9,3392.8 293.2,3406.3 294.3,3419.8 295.3,3427.3 296.4,3431.8 297.9,3434.8 299.5,3436.0 300.6,3433.3 301.5,3431.8 302.7,3435.5 303.9,3437.8 305.7,3436.3 307.5,3433.6 308.7,3437.0 309.6,3440.4 311.1,3437.0 312.9,3437.0 314.4,3440.0 315.9,3442.6 318.2,3442.3 320.1,3441.5 321.6,3437.8 322.6,3431.8 323.6,3428.0 324.6,3431.8 325.8,3436.6 327.9,3437.5 330.1,3438.5 332.1,3439.3 333.9,3439.3 335.7,3443.8 337.5,3442.0 339.6,3442.6 341.7,3444.1 343.7,3443.0 345.9,3443.8 348.1,3443.0 349.6,3445.2 350.5,3446.8 351.4,3434.8 352.2,3429.5 353.1,3437.8 353.8,3446.1 355.6,3445.2 357.1,3443.0 359.1,3443.5 360.5,3442.6 362.4,3446.1 363.9,3443.8 365.7,3441.5 367.6,3442.0 369.5,3440.8 371.6,3441.1 373.6,3440.4 375.6,3443.8 377.3,3440.0 379.1,3444.1 381.1,3443.8 383.3,3443.0 385.2,3442.0 386.3,3440.0 388.1,3440.8 389.6,3442.3 390.8,3438.5 392.3,3442.0 393.8,3441.5 396.1,3444.1 397.6,3442.6 398.3,3431.8 399.4,3424.3 400.3,3433.3 401.0,3443.8 402.8,3444.5 404.3,3443.0 405.8,3443.0 407.0,3437.8 408.8,3440.0 410.6,3442.3 412.1,3443.0 413.6,3440.8 414.8,3442.3 415.7,3421.3 416.8,3406.0 417.7,3421.3 418.5,3442.3 420.8,3440.8 423.1,3441.1 426.0,3441.1 427.5,3437.0 430.1,3437.0 431.6,3442.0 433.1,3437.8 434.6,3437.0 436.1,3433.6 437.6,3439.0 439.5,3437.5 441.5,3439.0 443.3,3436.3 445.1,3434.8 447.0,3429.5 449.0,3433.3 450.8,3435.1 452.6,3433.3 455.2,3436.3 457.5,3433.3 459.0,3431.8 461.0,3428.8 462.7,3429.5 463.0,3429.4 464.8,3419.1 466.8,3423.2 468.9,3423.7 470.7,3422.8 472.2,3424.0 473.5,3427.4 474.7,3413.3 475.6,3416.3 476.8,3424.0 478.3,3410.2 479.9,3414.8 481.7,3415.6 483.7,3421.7 485.3,3421.7 486.3,3408.6 487.6,3399.4 488.8,3392.5 489.9,3397.9 491.4,3401.0 493.0,3401.8 495.2,3398.2 497.6,3401.8 499.1,3397.9 500.2,3388.7 501.4,3381.3 503.0,3386.3 504.8,3387.9 506.0,3377.9 506.9,3362.6 507.7,3347.2 508.5,3331.5 509.4,3347.2 510.3,3362.6 511.9,3364.1 512.8,3354.9 513.7,3342.9 515.6,3341.8 516.8,3334.6 517.7,3344.1 518.9,3356.4 519.9,3339.5 520.8,3316.4 521.7,3301.1 522.9,3288.8 524.5,3279.9 525.7,3293.4 526.7,3306.0 527.8,3285.7 529.1,3271.1 530.3,3278.1 531.4,3293.4 532.6,3319.3 533.4,3293.4 534.3,3266.6 535.2,3282.6 536.3,3297.3 537.5,3282.6 538.6,3262.7 539.8,3241.2 540.7,3245.8 541.7,3251.9 542.9,3248.8 544.1,3236.6 545.7,3217.3 546.7,3231.9 547.7,3247.0 548.7,3233.5 549.7,3228.9 550.9,3236.6 551.8,3238.9 553.0,3230.4 554.3,3216.6 555.5,3202.8 556.4,3199.0 557.3,3208.9 558.3,3215.9 559.2,3202.8 560.6,3193.6 562.1,3182.8 563.2,3162.8 564.1,3132.1 564.7,3101.4 565.0,3069.3 565.9,3029.4 567.8,3080.1 570.5,3038.6 572.4,3015.6 573.9,3004.5 575.1,3038.6 576.4,3069.3 577.6,3101.4 579.0,3132.1 580.5,3165.9 582.1,3181.2 583.6,3188.9 585.6,3192.0 587.2,3210.5 587.7,3178.2 588.7,3132.1 589.6,3093.7 590.8,3023.3 592.0,2977.2 593.3,2938.8 593.9,2924.2 596.1,2923.7 596.7,2869.6 597.4,2792.8 598.3,2728.6 599.1,2808.2 599.8,2900.3 600.4,2992.5 601.3,3054.0 602.8,3132.1 604.1,3178.2 605.6,3183.1 606.7,3172.0 607.7,3164.3 608.9,3175.1 609.9,3179.4 610.5,3147.4 611.4,3106.0 612.4,3147.4 613.5,3185.6 614.2,3132.1 614.8,3023.3 615.4,2915.8 616.3,2838.9 617.4,2792.8 618.9,2759.8 619.4,2823.6 620.0,2900.3 620.6,2961.8 621.5,3023.3 623.7,3116.7 625.1,3178.2 625.9,3155.1 626.8,3134.9 627.7,3178.2 628.6,3213.5 630.5,3223.5 632.0,3216.6 632.9,3208.9 633.5,3162.8 634.3,3101.4 634.8,3023.3 635.4,2869.6 636.3,2717.5 637.2,2808.2 638.2,2900.3 639.1,3007.9 640.4,3116.7 641.2,3146.7 642.8,3152.1 644.0,3185.9 645.1,3221.2 646.6,3228.9 647.4,3247.3 648.4,3267.0 649.2,3239.6 650.1,3193.6 651.2,3132.1 652.3,3023.3 653.2,2977.2 654.1,2949.9 655.1,3007.9 656.0,3069.3 657.3,3147.4 658.4,3213.5 660.0,3226.1 662.1,3226.6 663.2,3247.3 664.3,3262.7 665.5,3267.3 666.1,3239.6 667.0,3162.8 668.0,3101.4 668.9,3023.3 669.8,2988.2 670.4,3054.0 670.9,3147.4 671.6,3245.8 673.2,3251.9 674.4,3262.7 675.5,3277.3 676.6,3262.7 677.8,3247.3 678.7,3270.4 679.6,3290.6 680.4,3255.0 681.2,3208.9 682.4,3132.1 683.6,3084.0 684.2,3101.4 685.0,3178.2 686.1,3224.3 687.3,3270.4 688.2,3291.9 689.0,3312.6 690.1,3298.0 691.2,3291.9 691.0,3298.0 692.2,3270.4 693.1,3239.6 694.1,3216.6 695.0,3205.5 695.9,3224.3 696.8,3247.3 697.9,3270.4 699.0,3293.4 699.9,3282.6 700.8,3269.6 701.8,3282.6 703.0,3298.0 704.2,3287.3 705.5,3282.6 707.0,3281.9 707.9,3267.3 709.0,3249.7 709.8,3270.4 710.7,3293.4 711.9,3299.5 713.3,3304.2 714.6,3309.1 715.6,3293.4 716.5,3270.4 717.4,3251.9 718.3,3237.3 719.3,3248.8 720.2,3262.7 721.1,3285.7 722.0,3302.4 722.9,3293.4 723.9,3291.1 724.8,3295.0 726.0,3301.1 727.2,3292.6 728.8,3297.3 730.6,3294.2 732.2,3295.3 733.4,3293.4 734.6,3285.7 735.9,3281.5 737.1,3293.4 738.3,3305.7 739.6,3312.2 740.5,3301.1 741.7,3278.1 742.8,3262.7 743.9,3247.3 744.8,3270.4 745.7,3291.1 746.6,3285.7 747.6,3281.5 748.5,3301.1 749.5,3316.4 750.9,3305.7 752.2,3293.4 753.2,3285.7 754.3,3288.8 755.6,3291.9 756.5,3282.6 757.5,3276.5 758.6,3288.8 759.8,3298.0 761.2,3306.5 762.1,3285.7 763.2,3268.8 764.5,3273.4 765.7,3278.1 766.9,3282.6 768.1,3287.3 769.3,3290.3 770.1,3278.1 770.9,3268.0 771.8,3282.6 772.9,3298.8 774.0,3285.7 775.0,3271.1 776.3,3282.6 777.3,3293.4 778.6,3303.8 779.5,3278.1 780.7,3250.4 781.7,3262.7 782.6,3278.1 783.5,3301.1 784.3,3319.5 785.0,3336.7 786.0,3308.8 786.9,3287.3 787.8,3293.4 788.7,3299.5 789.7,3278.1 790.8,3249.7 791.8,3270.4 792.7,3280.4 794.0,3281.5 795.5,3284.2 796.7,3298.0 797.6,3310.3 798.6,3319.5 799.5,3308.8 800.4,3293.4 801.6,3273.4 802.7,3262.7 803.4,3257.3 804.4,3270.4 805.1,3284.2 806.2,3270.4 807.5,3261.2 808.7,3255.0 809.6,3270.4 810.5,3283.5 812.4,3282.4 813.9,3287.3 814.7,3270.4 815.5,3252.2 816.4,3270.4 817.3,3283.5 818.5,3274.7 819.7,3282.6 820.8,3285.7 821.9,3288.8 823.1,3275.8 825.0,3273.7 825.9,3285.7 826.8,3292.6 827.7,3278.1 828.7,3268.5 829.9,3284.9 830.8,3262.7 831.9,3244.0 832.8,3262.7 833.9,3276.5 835.1,3278.1 836.2,3299.3 837.0,3285.7 838.0,3267.3 839.0,3281.1 839.7,3291.9 840.5,3278.1 841.4,3258.9 842.3,3278.1 843.1,3290.3 844.3,3285.7 845.3,3255.0 846.2,3236.6 847.1,3231.9 847.9,3230.4 848.7,3247.3 849.2,3257.3 850.2,3231.9 851.1,3208.9 852.0,3178.2 852.9,3155.1 853.9,3142.0 854.8,3162.8 855.7,3185.9 856.9,3201.2 858.1,3210.5 859.6,3217.3 860.8,3204.6 861.5,3231.9 862.4,3256.8 863.9,3250.4 865.9,3248.8 866.9,3236.6 868.0,3221.5 869.5,3227.4 870.8,3239.6 872.0,3255.0 872.9,3267.3 873.9,3276.5 875.0,3265.7 876.9,3262.7 878.1,3239.6 879.2,3227.4 880.1,3222.4 881.5,3231.9 882.8,3247.3 884.0,3255.0 885.2,3257.3 886.1,3239.6 887.1,3233.8 888.3,3239.6 889.5,3231.9 890.7,3221.2 891.7,3213.5 892.9,3231.9 893.8,3208.9 894.7,3200.0 896.6,3203.5 897.6,3216.6 898.7,3227.4 899.7,3231.6 901.5,3230.4 902.7,3216.6 903.8,3208.2 905.8,3206.6 906.4,3239.6 907.2,3259.6 908.2,3239.6 909.5,3224.3 910.7,3201.2 911.8,3184.3 912.5,3216.6 913.5,3247.3 914.7,3256.5 915.6,3239.6 916.9,3208.9 918.1,3197.8 919.1,3216.6 919.9,3230.1 919.0,3201.2 919.9,3229.7 920.8,3216.6 922.1,3212.0 923.0,3239.6 923.9,3251.6 924.9,3231.9 926.1,3222.7 927.5,3218.1 928.2,3224.3 929.1,3242.7 929.7,3178.2 930.4,3116.7 931.2,3084.1 931.4,3116.7 931.9,3238.1 932.5,3208.9 933.1,3188.2 934.0,3188.9 935.0,3208.9 935.9,3224.3 937.1,3244.3 938.6,3255.0 939.9,3262.7 940.8,3270.4 941.8,3274.7 942.7,3255.0 943.6,3242.0 944.8,3248.8 946.0,3255.0 947.3,3255.8 948.5,3251.9 949.3,3231.9 950.0,3220.4 950.8,3239.6 951.7,3258.9 952.5,3231.9 953.4,3209.7 954.4,3224.3 955.3,3255.0 956.2,3270.4 957.1,3278.1 958.3,3262.7 959.6,3247.3 960.8,3233.8 962.3,3237.3 963.6,3231.9 964.8,3229.7 966.3,3230.4 967.2,3239.6 968.1,3262.7 968.8,3270.4 969.7,3247.3 970.9,3231.9 972.2,3218.9 974.0,3220.0 974.9,3231.9 975.9,3239.6 976.8,3248.1 978.0,3236.6 979.2,3233.5 980.5,3232.2 981.2,3244.3 982.0,3253.5 983.5,3250.4 985.1,3245.8 986.3,3239.6 987.2,3227.4 988.1,3216.6 989.1,3239.6 990.0,3255.8 990.9,3247.3 991.8,3232.8 992.8,3255.0 993.8,3288.5 994.8,3270.4 995.5,3247.3 996.5,3231.9 997.7,3213.9 998.9,3224.3 1000.1,3225.8 1001.3,3225.1 1002.3,3236.6 1003.2,3247.0 1004.3,3239.6 1005.4,3235.0 1006.9,3227.7 1008.1,3239.6 1009.2,3253.8 1010.0,3239.6 1010.9,3225.1 1011.9,3239.6 1013.0,3254.7 1014.6,3257.3 1015.8,3247.3 1017.3,3239.6 1018.9,3231.9 1020.4,3225.5 1021.6,3247.3 1022.6,3256.2 1023.5,3224.3 1024.4,3201.2 1025.3,3170.5 1026.2,3150.5 1027.2,3178.2 1028.1,3197.8 1030.2,3196.6 1031.2,3224.3 1032.1,3247.3 1033.0,3262.7 1034.2,3281.9 1036.1,3282.6 1037.0,3255.0 1037.9,3234.2 1038.8,3255.0 1039.6,3269.6 1040.4,3247.3 1041.6,3224.3 1042.5,3239.6 1043.4,3258.4 1044.7,3239.6 1045.9,3231.9 1047.1,3230.1 1048.4,3247.3 1049.6,3262.7 1050.8,3269.1 1052.1,3262.7 1053.0,3255.0 1054.2,3245.0 1055.1,3278.1 1056.0,3304.2 1057.6,3307.5 1058.5,3285.7 1059.4,3271.6 1061.3,3272.7 1062.2,3293.4 1063.1,3308.8 1064.0,3316.4 1065.3,3308.8 1066.2,3293.4 1067.1,3279.9 1068.3,3301.1 1069.3,3324.1 1070.3,3344.1 1071.1,3316.4 1072.0,3291.1 1072.9,3301.1 1073.9,3302.6 1075.1,3286.0 1076.3,3301.1 1077.9,3314.2 1079.1,3289.1 1080.6,3289.6 1081.6,3316.4 1082.5,3347.2 1083.4,3369.0 1084.6,3331.8 1085.5,3293.4 1086.2,3280.4 1087.1,3316.4 1088.0,3362.6 1088.9,3395.6 1089.8,3347.2 1090.8,3306.9 1091.7,3353.6 1092.9,3339.5 1094.2,3331.8 1094.9,3321.8 1095.7,3347.2 1096.4,3372.1 1097.2,3339.5 1098.1,3308.8 1099.1,3288.5 1100.0,3324.1 1100.7,3353.4 1101.8,3344.1 1103.1,3331.8 1104.0,3316.4 1104.8,3298.4 1105.5,3347.2 1106.1,3385.6 1107.4,3401.8 1108.6,3390.2 1109.8,3385.6 1111.1,3381.0 1112.0,3351.5 1112.9,3377.9 1113.8,3401.0 1114.8,3411.7 1116.0,3425.5 1116.9,3408.6 1117.7,3393.0 1118.7,3401.0 1119.4,3424.0 1120.3,3440.9 1121.5,3436.3 1122.4,3416.3 1123.2,3393.3 1124.1,3397.9 1124.9,3405.6 1126.1,3431.7 1127.4,3422.5 1128.3,3408.6 1129.2,3401.0 1130.0,3416.3 1130.9,3437.0 1131.7,3408.6 1132.2,3393.0 1133.2,3408.6 1134.1,3435.5 1134.8,3416.3 1135.6,3401.3 1136.5,3416.3 1137.2,3435.5 1138.0,3421.0 1138.7,3410.2 1139.6,3431.7 1140.6,3440.1 1141.5,3437.9 1142.7,3446.3 1143.6,3439.4 1144.8,3431.7 1146.1,3428.9 1147.2,3439.4 1148.2,3440.6 1149.0,3439.4"/>
</g>
<g>
<path class="ax" d="M1317.50 2717.30V3469.65M1303.00 3455.35H2230.70M1310.10 3418.45H1317.50M1303.00 3381.55H1317.50M1310.10 3344.64H1317.50M1303.00 3307.74H1317.50M1310.10 3270.84H1317.50M1303.00 3233.94H1317.50M1310.10 3197.03H1317.50M1303.00 3160.13H1317.50M1310.10 3123.23H1317.50M1303.00 3086.33H1317.50M1310.10 3049.42H1317.50M1303.00 3012.52H1317.50M1310.10 2975.62H1317.50M1303.00 2938.72H1317.50M1310.10 2901.81H1317.50M1303.00 2864.91H1317.50M1310.10 2828.01H1317.50M1303.00 2791.11H1317.50M1310.10 2754.20H1317.50M1303.00 2717.30H1317.50M1431.65 3455.35V3462.15M1545.80 3455.35V3469.65M1659.95 3455.35V3462.15M1774.10 3455.35V3469.65M1888.25 3455.35V3462.15M2002.40 3455.35V3469.65M2116.55 3455.35V3462.15M2230.70 3455.35V3469.65"/>
<text class="tk" text-anchor="end" transform="translate(1292.2 3466.8) scale(1 1.05)">0</text>
<text class="tk" text-anchor="end" transform="translate(1292.2 3392.9) scale(1 1.05)">10</text>
<text class="tk" text-anchor="end" transform="translate(1292.2 3319.1) scale(1 1.05)">20</text>
<text class="tk" text-anchor="end" transform="translate(1292.2 3245.3) scale(1 1.05)">30</text>
<text class="tk" text-anchor="end" transform="translate(1292.2 3171.5) scale(1 1.05)">40</text>
<text class="tk" text-anchor="end" transform="translate(1292.2 3097.7) scale(1 1.05)">50</text>
<text class="tk" text-anchor="end" transform="translate(1292.2 3023.9) scale(1 1.05)">60</text>
<text class="tk" text-anchor="end" transform="translate(1292.2 2950.1) scale(1 1.05)">70</text>
<text class="tk" text-anchor="end" transform="translate(1292.2 2876.3) scale(1 1.05)">80</text>
<text class="tk" text-anchor="end" transform="translate(1292.2 2802.5) scale(1 1.05)">90</text>
<text class="tk" text-anchor="end" transform="translate(1292.2 2728.7) scale(1 1.05)">100</text>
<text class="tk" text-anchor="middle" transform="translate(1317.5 3504.3) scale(1 0.93)">0</text>
<text class="tk" text-anchor="middle" transform="translate(1545.8 3504.3) scale(1 0.93)">5</text>
<text class="tk" text-anchor="middle" transform="translate(1774.1 3504.3) scale(1 0.93)">10</text>
<text class="tk" text-anchor="middle" transform="translate(2002.4 3504.3) scale(1 0.93)">15</text>
<text class="tk" text-anchor="middle" transform="translate(2230.7 3504.3) scale(1 0.93)">20</text>
<text class="xl" text-anchor="middle" transform="translate(1774.1 3538.6) scale(1 0.82)">Time (min)</text>
<text class="yl" text-anchor="middle" transform="translate(1234.6 3070.8) rotate(-90)">Relative Abundance</text>
<text class="md" text-anchor="end" x="2233.7" y="2751.7">Negative</text>
<polyline class="tr" points="1318.2,3453.9 1320.1,3452.4 1321.3,3439.4 1322.5,3416.3 1323.8,3393.3 1324.7,3385.6 1325.9,3391.7 1327.5,3397.9 1329.3,3404.1 1331.2,3410.2 1332.4,3417.9 1333.6,3424.0 1335.4,3425.5 1337.0,3424.0 1338.5,3426.8 1340.1,3420.1 1341.9,3418.6 1343.4,3421.7 1345.4,3422.8 1347.1,3419.7 1348.6,3421.7 1349.9,3428.6 1350.8,3432.5 1351.7,3424.0 1352.7,3408.6 1353.3,3377.9 1353.7,3331.8 1354.2,3270.4 1354.8,3208.9 1355.4,3147.4 1356.0,3101.4 1357.8,2992.6 1360.0,3027.3 1360.9,3086.0 1361.6,3147.4 1362.2,3208.9 1362.8,3255.0 1363.6,3285.7 1364.3,3302.9 1365.3,3255.0 1366.2,3208.9 1367.1,3181.2 1368.2,3163.6 1369.2,3201.2 1370.1,3239.6 1371.1,3285.7 1372.0,3316.4 1372.9,3331.8 1374.6,3344.1 1376.9,3359.5 1378.8,3374.8 1380.6,3391.0 1382.3,3384.1 1383.4,3377.9 1384.6,3376.7 1385.9,3385.6 1387.0,3394.0 1388.9,3394.8 1390.0,3402.5 1391.1,3411.7 1393.1,3408.6 1395.0,3406.3 1396.0,3399.4 1396.9,3392.0 1398.0,3401.0 1399.0,3408.9 1400.3,3393.3 1401.5,3370.3 1402.4,3359.5 1403.3,3350.3 1404.6,3341.3 1405.8,3354.9 1406.9,3366.9 1407.6,3347.2 1408.9,3327.5 1410.0,3347.2 1411.0,3370.3 1412.0,3385.6 1413.0,3413.6 1414.1,3401.0 1415.3,3393.3 1416.9,3391.4 1418.4,3399.4 1420.0,3405.6 1420.9,3408.9 1422.1,3402.5 1423.0,3399.4 1424.3,3402.5 1425.2,3405.2 1426.4,3395.1 1427.9,3402.5 1429.1,3408.6 1430.4,3419.4 1431.9,3429.4 1433.2,3425.5 1434.1,3422.1 1435.3,3427.8 1437.1,3430.9 1439.1,3427.4 1441.5,3425.8 1442.7,3419.4 1443.9,3415.6 1445.8,3419.4 1447.3,3424.0 1448.8,3428.3 1450.4,3419.7 1451.9,3427.1 1453.4,3426.3 1455.6,3432.0 1456.5,3416.3 1457.4,3393.3 1458.2,3381.0 1459.0,3374.8 1459.9,3385.6 1460.8,3402.5 1462.7,3407.1 1463.7,3416.3 1464.8,3425.5 1466.0,3432.9 1467.9,3432.0 1469.4,3431.4 1470.6,3427.4 1472.2,3427.1 1474.0,3430.2 1476.0,3429.4 1477.1,3424.0 1478.0,3408.6 1479.0,3389.9 1481.1,3390.5 1482.0,3405.6 1482.9,3419.4 1484.5,3431.7 1486.3,3437.9 1488.3,3440.1 1490.6,3443.2 1492.5,3442.4 1493.7,3436.3 1495.2,3428.3 1496.8,3434.8 1498.3,3435.1 1499.8,3437.0 1501.4,3432.9 1503.2,3430.9 1505.2,3428.9 1507.2,3427.1 1508.3,3419.4 1509.0,3408.6 1510.0,3407.9 1511.8,3409.4 1512.7,3419.4 1513.7,3426.3 1514.9,3432.5 1516.4,3429.4 1518.6,3430.2 1521.1,3430.9 1522.6,3424.0 1523.8,3408.6 1524.7,3385.6 1525.3,3354.9 1525.9,3331.8 1526.9,3313.4 1528.1,3301.1 1529.0,3313.4 1530.3,3331.8 1531.3,3347.2 1532.4,3356.1 1534.8,3353.4 1535.9,3370.3 1537.0,3385.6 1538.2,3397.9 1539.5,3408.6 1541.0,3413.3 1542.6,3417.9 1544.4,3418.2 1545.0,3417.9 1546.5,3418.6 1548.1,3426.3 1549.9,3424.0 1551.1,3414.8 1553.0,3416.3 1555.0,3414.5 1556.5,3408.6 1557.9,3402.8 1559.6,3407.1 1561.6,3410.2 1563.4,3410.9 1565.3,3416.6 1567.1,3414.8 1568.4,3401.0 1569.3,3385.6 1570.2,3370.5 1571.1,3385.6 1572.3,3397.9 1573.9,3404.1 1574.8,3390.2 1575.7,3377.1 1576.7,3393.3 1577.9,3410.2 1579.1,3418.2 1580.3,3405.6 1581.9,3377.9 1583.1,3362.6 1584.3,3350.0 1585.3,3370.3 1586.5,3390.2 1588.0,3404.1 1589.9,3413.3 1591.4,3415.1 1592.9,3409.4 1594.5,3405.6 1595.4,3406.3 1596.3,3410.9 1597.9,3391.7 1599.5,3385.6 1601.1,3377.9 1602.1,3362.6 1602.8,3301.1 1603.4,3239.6 1604.3,3162.8 1605.2,3116.7 1605.9,3032.4 1607.2,3086.0 1608.0,3147.4 1608.8,3224.3 1609.5,3285.7 1610.1,3312.6 1612.0,3319.5 1612.9,3347.2 1613.8,3377.9 1614.9,3393.3 1615.7,3397.9 1616.9,3385.6 1618.1,3362.6 1619.4,3352.5 1620.6,3357.9 1621.5,3362.6 1622.4,3385.6 1623.4,3402.5 1624.9,3401.0 1626.1,3385.6 1627.3,3370.3 1628.4,3359.5 1629.5,3370.3 1630.7,3385.6 1632.3,3401.0 1634.1,3411.4 1635.9,3409.4 1637.5,3406.3 1638.7,3390.2 1639.6,3377.9 1641.5,3371.8 1642.4,3381.0 1643.3,3389.4 1645.2,3384.9 1647.2,3384.1 1648.7,3385.6 1649.8,3389.4 1651.0,3402.2 1651.9,3385.6 1652.9,3362.6 1653.5,3316.4 1654.1,3270.4 1654.8,3247.7 1655.6,3270.4 1656.4,3293.4 1657.5,3316.4 1658.4,3339.5 1659.0,3353.1 1660.5,3339.5 1662.1,3354.9 1663.3,3377.9 1664.8,3397.6 1666.1,3385.6 1667.3,3362.6 1668.5,3341.0 1669.4,3362.6 1670.4,3393.0 1671.9,3385.6 1673.7,3377.9 1674.4,3331.8 1675.0,3270.4 1675.6,3221.5 1676.5,3255.0 1677.4,3285.7 1678.4,3316.4 1679.6,3339.5 1680.8,3359.5 1682.0,3374.8 1683.3,3385.6 1685.1,3391.7 1686.0,3362.6 1687.0,3316.4 1687.6,3255.0 1688.5,3184.6 1689.4,3239.6 1690.4,3301.1 1691.3,3347.2 1692.2,3374.8 1693.3,3381.0 1694.8,3382.2 1696.5,3377.9 1697.1,3354.9 1698.0,3330.3 1699.1,3347.2 1700.2,3364.9 1701.4,3347.2 1702.5,3331.8 1703.9,3313.4 1704.8,3255.0 1705.4,3178.2 1706.0,3130.5 1706.8,3193.6 1707.6,3255.0 1708.2,3301.1 1709.1,3347.2 1710.0,3366.9 1711.5,3364.1 1712.8,3361.0 1713.7,3354.9 1714.6,3362.6 1715.6,3373.3 1716.5,3347.2 1717.7,3320.7 1718.9,3325.7 1720.1,3339.5 1721.4,3363.3 1722.9,3359.5 1724.1,3354.9 1725.7,3334.6 1726.6,3354.9 1727.5,3366.9 1729.4,3367.2 1731.5,3364.1 1732.5,3347.2 1733.4,3316.4 1734.3,3285.7 1735.2,3259.3 1736.1,3293.4 1737.1,3324.1 1738.0,3354.9 1738.9,3370.3 1739.8,3377.9 1740.9,3382.2 1742.3,3374.8 1743.8,3367.2 1745.2,3364.4 1746.0,3374.8 1746.9,3382.8 1747.8,3370.3 1749.0,3354.9 1749.9,3316.4 1750.6,3287.3 1751.5,3324.1 1752.4,3347.2 1753.6,3359.5 1754.9,3368.4 1755.8,3347.2 1757.0,3311.9 1758.3,3319.5 1759.5,3334.9 1760.7,3350.3 1761.6,3301.1 1762.5,3255.0 1763.2,3193.6 1763.9,3116.7 1764.1,3035.4 1765.6,3086.0 1766.2,3147.4 1766.7,3197.4 1767.5,3184.3 1768.5,3177.8 1769.6,3184.3 1770.5,3187.4 1771.2,3224.3 1771.8,3270.4 1772.4,3308.8 1773.6,3324.1 1773.0,3298.0 1774.2,3324.1 1775.7,3342.6 1777.0,3324.1 1778.1,3306.5 1779.2,3339.5 1780.4,3359.5 1782.2,3370.5 1783.7,3362.6 1784.7,3331.8 1785.3,3301.1 1785.9,3286.5 1786.8,3301.1 1787.9,3313.1 1788.7,3285.7 1789.9,3247.3 1790.8,3224.3 1791.7,3212.3 1792.7,3239.6 1793.6,3285.7 1794.5,3324.1 1795.7,3367.4 1797.3,3347.2 1798.3,3316.4 1799.1,3285.7 1799.7,3208.9 1800.2,3132.1 1801.3,2717.3 1803.1,3086.0 1803.7,3178.2 1804.5,3270.4 1805.3,3347.2 1806.5,3377.9 1808.3,3381.8 1811.1,3384.1 1812.0,3374.8 1813.0,3366.4 1813.9,3370.3 1815.0,3375.6 1815.7,3347.2 1816.7,3270.4 1817.2,3193.6 1817.8,3116.7 1818.6,2811.0 1820.0,3086.0 1820.6,3132.1 1821.2,3193.6 1821.9,3255.0 1822.5,3301.1 1823.1,3239.6 1823.7,3178.2 1824.6,3116.7 1826.4,2774.9 1827.7,3086.0 1828.3,3178.2 1829.1,3270.4 1829.9,3331.8 1830.8,3343.3 1832.6,3344.1 1834.1,3350.3 1835.4,3357.9 1836.3,3361.8 1837.5,3339.5 1838.8,3331.8 1840.3,3324.9 1840.9,3285.7 1841.5,3239.6 1842.1,3193.6 1842.6,3164.0 1843.4,3208.9 1844.3,3255.0 1845.2,3293.4 1846.4,3324.1 1847.7,3339.5 1848.9,3362.6 1850.3,3383.3 1851.7,3380.2 1854.1,3379.8 1854.9,3362.6 1855.8,3346.0 1856.7,3354.9 1857.8,3362.6 1859.0,3347.2 1860.1,3339.8 1861.2,3350.3 1862.4,3362.6 1864.0,3373.3 1865.2,3354.9 1866.4,3344.1 1867.9,3334.9 1869.0,3354.9 1870.1,3374.8 1871.6,3385.6 1873.8,3388.7 1874.7,3374.8 1875.5,3363.8 1876.7,3377.9 1877.8,3385.6 1879.3,3391.7 1881.3,3397.9 1882.1,3388.7 1882.9,3383.3 1883.9,3391.7 1885.1,3396.4 1886.4,3399.7 1887.9,3391.7 1889.2,3392.5 1890.4,3394.8 1891.6,3404.8 1892.9,3403.2 1894.7,3397.1 1896.2,3397.9 1897.4,3404.1 1898.7,3408.6 1900.2,3410.2 1901.8,3408.6 1903.6,3406.3 1904.5,3393.3 1906.4,3392.5 1907.9,3388.7 1908.8,3377.9 1909.6,3370.5 1910.7,3385.6 1911.9,3397.9 1913.1,3405.6 1914.8,3411.4 1916.2,3407.9 1918.2,3404.1 1919.9,3397.9 1921.1,3396.0 1922.6,3402.5 1924.2,3410.9 1925.4,3407.1 1926.7,3409.4 1927.9,3411.7 1929.1,3405.6 1930.5,3407.9 1932.0,3406.3 1933.7,3414.5 1935.1,3408.6 1936.8,3408.6 1938.9,3407.1 1940.8,3410.2 1942.3,3405.6 1943.9,3394.0 1945.4,3401.0 1946.9,3401.8 1948.5,3387.9 1950.4,3386.3 1952.0,3381.8 1953.1,3379.8 1954.3,3393.3 1955.5,3408.6 1956.6,3417.9 1957.7,3408.6 1958.9,3393.3 1959.8,3381.8 1960.8,3390.2 1961.7,3397.9 1962.6,3387.2 1963.5,3379.1 1964.5,3393.3 1965.4,3405.6 1966.6,3400.2 1968.1,3399.7 1969.7,3411.4 1971.5,3406.3 1973.0,3410.2 1974.6,3412.0 1975.2,3393.3 1976.0,3379.8 1977.0,3385.6 1978.2,3393.3 1979.7,3399.7 1981.2,3400.2 1982.3,3407.9 1984.3,3408.3 1986.6,3409.9 1988.1,3408.6 1989.6,3410.9 1991.2,3407.9 1992.7,3407.1 1994.2,3403.2 1995.8,3405.2 1997.0,3393.3 1997.6,3347.2 1998.2,3255.0 1999.2,3133.3 2000.1,3208.9 2001.0,3285.7 2001.9,3354.9 2001.9,3330.9 2002.5,3375.9 2003.4,3383.4 2005.2,3386.6 2007.0,3386.6 2008.8,3387.9 2010.3,3395.3 2011.8,3398.4 2013.7,3396.1 2015.2,3394.6 2016.7,3393.9 2017.5,3386.3 2018.4,3381.1 2019.3,3387.9 2020.2,3393.9 2021.7,3395.1 2023.5,3392.7 2025.0,3392.4 2026.2,3387.9 2028.0,3386.3 2028.9,3378.9 2029.8,3373.2 2030.7,3380.4 2031.7,3385.2 2033.1,3386.0 2034.3,3381.9 2035.5,3377.4 2036.6,3372.9 2037.6,3360.9 2038.5,3342.9 2039.3,3330.9 2040.0,3322.7 2040.8,3338.4 2041.8,3354.9 2042.4,3361.6 2043.3,3354.9 2044.1,3348.9 2045.6,3348.9 2046.6,3338.4 2047.6,3324.2 2048.7,3333.9 2049.7,3345.9 2050.8,3354.9 2051.7,3361.6 2053.4,3363.2 2054.6,3368.4 2055.7,3372.6 2057.3,3373.2 2058.5,3368.4 2059.4,3365.7 2060.9,3367.7 2062.7,3369.1 2063.9,3369.9 2064.8,3363.9 2065.7,3360.6 2066.9,3372.9 2067.8,3366.9 2069.2,3357.6 2070.2,3363.9 2071.4,3359.4 2072.9,3356.7 2074.4,3358.7 2075.9,3360.9 2077.4,3365.4 2078.6,3374.1 2079.5,3363.9 2080.4,3355.2 2081.6,3359.4 2082.7,3363.9 2084.2,3357.9 2085.6,3355.2 2086.7,3350.4 2088.2,3343.2 2089.1,3351.9 2090.0,3360.1 2090.9,3351.9 2091.9,3345.9 2093.0,3348.9 2094.2,3357.9 2095.1,3365.4 2096.0,3372.2 2096.9,3357.9 2097.8,3348.9 2098.7,3354.9 2099.6,3357.2 2100.5,3348.9 2101.4,3338.4 2102.3,3320.4 2103.2,3308.5 2104.1,3323.5 2105.3,3345.9 2106.5,3328.0 2107.4,3315.2 2108.6,3320.4 2109.8,3328.0 2111.1,3336.9 2112.2,3342.9 2113.4,3348.2 2114.6,3338.4 2115.6,3331.2 2116.7,3336.9 2117.9,3342.9 2118.8,3350.4 2119.7,3356.1 2120.9,3349.7 2122.3,3349.2 2123.6,3352.7 2124.8,3357.6 2125.7,3351.9 2126.5,3346.6 2127.5,3363.9 2128.4,3383.4 2129.6,3372.9 2130.8,3366.9 2132.3,3365.4 2133.2,3375.9 2133.9,3385.2 2134.7,3368.4 2135.5,3352.2 2136.5,3360.9 2137.6,3372.9 2138.8,3384.9 2140.3,3384.1 2141.5,3378.9 2142.4,3375.9 2143.4,3384.9 2144.3,3394.2 2145.1,3384.9 2145.9,3376.6 2147.0,3383.4 2148.1,3390.8 2149.3,3397.6 2150.2,3390.8 2151.3,3388.6 2152.3,3390.8 2153.2,3404.1 2154.4,3399.8 2155.6,3399.1 2156.8,3402.9 2158.0,3405.8 2159.2,3403.6 2160.1,3408.9 2161.0,3416.3 2161.9,3423.1 2163.6,3422.4 2165.5,3422.7 2167.0,3420.1 2168.2,3419.3 2169.4,3423.8 2170.6,3431.7 2171.5,3426.9 2172.4,3421.6 2173.3,3428.3 2174.5,3435.8 2175.7,3434.3 2176.6,3429.8 2177.5,3433.6 2178.7,3428.6 2179.9,3434.3 2181.1,3440.3 2182.3,3443.3 2184.1,3443.0 2186.0,3441.0 2187.6,3443.0 2189.2,3446.0 2190.4,3443.3 2191.6,3441.5 2192.8,3444.5 2194.3,3442.6 2195.8,3447.1 2197.6,3448.6 2199.1,3449.6 2200.3,3446.6 2201.8,3450.5 2203.6,3447.8 2205.5,3447.5 2207.8,3448.6 2210.0,3448.7 2212.3,3449.3 2213.8,3450.8 2215.3,3452.3 2217.0,3448.1 2219.0,3450.8 2221.0,3450.0 2222.5,3451.6 2224.5,3449.0 2226.5,3451.6 2228.7,3452.6 2231.0,3452.3"/>
</g>
</svg>
</figure>
</main>
</body>
</html>
